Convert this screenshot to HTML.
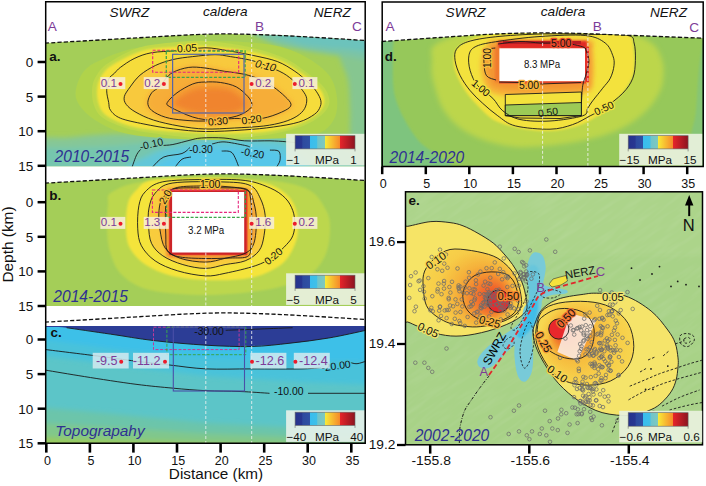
<!DOCTYPE html>
<html><head><meta charset="utf-8"><title>Figure</title>
<style>
html,body{margin:0;padding:0;background:#fff;}
body{width:706px;height:486px;overflow:hidden;position:relative;font-family:"Liberation Sans", sans-serif;}
svg{position:absolute;left:0;top:0;display:block;}
svg text{font-family:"Liberation Sans", sans-serif;}
</style></head><body>
<svg width="706" height="486" viewBox="0 0 706 486">
<defs>
<clipPath id="cA"><path d="M45.0,43.2 C58.5,42.4 99.2,40.0 126.0,38.5 C152.8,37.0 184.0,34.9 206.0,34.2 C228.0,33.6 240.3,34.1 258.0,34.6 C275.7,35.1 294.0,36.2 312.0,37.2 C330.0,38.2 357.0,40.0 366.0,40.6 L366,40.6 L366,166.2 L45,166.2 L45,43.2 Z"/></clipPath>
<clipPath id="cB"><path d="M45.0,183.2 C58.5,182.4 99.2,180.0 126.0,178.5 C152.8,177.0 184.0,174.8 206.0,174.2 C228.0,173.5 240.3,174.1 258.0,174.6 C275.7,175.1 294.0,176.2 312.0,177.2 C330.0,178.2 357.0,180.0 366.0,180.6 L366,180.6 L366,306.0 L45,306.0 L45,183.2 Z"/></clipPath>
<clipPath id="cC"><rect x="45" y="326" width="321" height="117.5"/></clipPath>
<clipPath id="cD"><path d="M382.0,41.5 C391.7,40.8 420.3,38.8 440.0,37.5 C459.7,36.2 480.0,34.5 500.0,33.8 C520.0,33.0 540.0,32.8 560.0,33.0 C580.0,33.2 596.2,34.1 620.0,35.0 C643.8,35.9 689.2,37.7 703.0,38.2 L704,38.2 L704,166.5 L381,166.5 L381,41.5 Z"/></clipPath>
<clipPath id="cE"><rect x="405.5" y="192" width="297" height="253"/></clipPath>
<filter id="bl1" x="-10%" y="-10%" width="120%" height="120%"><feGaussianBlur stdDeviation="1.2"/></filter>
<filter id="bl05" x="-10%" y="-10%" width="120%" height="120%"><feGaussianBlur stdDeviation="0.6"/></filter>
<filter id="bl2" x="-10%" y="-10%" width="120%" height="120%"><feGaussianBlur stdDeviation="2.5"/></filter>
<linearGradient id="cbar" x1="0" x2="1" y1="0" y2="0"><stop offset="0" stop-color="#26338c"/><stop offset="0.12" stop-color="#283792"/><stop offset="0.125" stop-color="#2d4a9e"/><stop offset="0.245" stop-color="#2f50a4"/><stop offset="0.25" stop-color="#38bdee"/><stop offset="0.37" stop-color="#40c0e8"/><stop offset="0.375" stop-color="#6ec4cc"/><stop offset="0.495" stop-color="#80c8bc"/><stop offset="0.5" stop-color="#f8ea38"/><stop offset="0.745" stop-color="#f68a2a"/><stop offset="0.75" stop-color="#e6242a"/><stop offset="1" stop-color="#8c1420"/></linearGradient>
<filter id="tex" x="0" y="0" width="100%" height="100%"><feTurbulence type="fractalNoise" baseFrequency="0.03 0.22" numOctaves="2" seed="5"/><feColorMatrix type="matrix" values="0 0 0 0 1  0 0 0 0 1  0 0 0 0 1  0 0 0 -1.2 0.75"/></filter>
</defs>
<g clip-path="url(#cA)">
<rect x="40" y="30" width="330" height="140" fill="#a4ce58"/>
<g filter="url(#bl2)">
<path d="M340.0,50.0 C344.0,44.2 366.7,28.3 372.0,45.0 C377.3,61.7 375.3,134.2 372.0,150.0 C368.7,165.8 355.7,146.7 352.0,140.0 C348.3,133.3 350.7,120.0 350.0,110.0 C349.3,100.0 349.7,90.0 348.0,80.0 C346.3,70.0 336.0,55.8 340.0,50.0Z" fill="#86c690"/>
<path d="M258.0,30.0 C275.0,28.0 353.0,25.3 372.0,30.0 C391.0,34.7 376.5,53.7 372.0,58.0 C367.5,62.3 353.3,56.8 345.0,56.0 C336.7,55.2 330.7,54.3 322.0,53.0 C313.3,51.7 301.7,49.8 293.0,48.0 C284.3,46.2 275.8,45.0 270.0,42.0 C264.2,39.0 241.0,32.0 258.0,30.0Z" fill="#7cc4a6"/>
<path d="M275.0,30.0 C287.7,27.8 355.8,26.7 372.0,30.0 C388.2,33.3 376.5,46.8 372.0,50.0 C367.5,53.2 353.3,49.5 345.0,49.0 C336.7,48.5 330.2,48.0 322.0,47.0 C313.8,46.0 303.8,45.8 296.0,43.0 C288.2,40.2 262.3,32.2 275.0,30.0Z" fill="#6cc3bc"/>
<path d="M40.0,172.0 C-15.3,166.8 35.2,146.8 40.0,141.0 C44.8,135.2 58.2,138.6 68.7,137.5 C79.2,136.4 91.4,135.1 102.7,134.5 C114.0,133.9 123.4,134.0 136.6,133.8 C149.8,133.6 166.4,133.1 182.0,133.1 C197.6,133.1 212.0,133.8 230.0,134.0 C248.0,134.2 273.3,133.7 290.0,134.0 C306.7,134.3 316.3,135.0 330.0,136.0 C343.7,137.0 365.0,134.0 372.0,140.0 C379.0,146.0 427.3,166.7 372.0,172.0 C316.7,177.3 95.3,177.2 40.0,172.0Z" fill="#86c796"/>
<path d="M40.0,172.0 C-10.8,168.3 35.0,154.1 40.0,150.0 C45.0,145.9 57.7,148.2 70.0,147.5 C82.3,146.8 99.0,146.6 114.0,145.5 C129.0,144.4 144.0,142.3 160.0,141.0 C176.0,139.7 193.3,138.1 210.0,137.5 C226.7,136.9 245.0,137.1 260.0,137.5 C275.0,137.9 288.3,138.8 300.0,140.0 C311.7,141.2 322.5,139.7 330.0,145.0 C337.5,150.3 393.3,167.5 345.0,172.0 C296.7,176.5 90.8,175.7 40.0,172.0Z" fill="#76c6ae"/>
<path d="M135.0,172.0 C110.0,169.2 142.8,159.3 150.0,155.0 C157.2,150.7 168.0,148.3 178.0,146.0 C188.0,143.7 196.3,141.8 210.0,141.0 C223.7,140.2 247.0,140.2 260.0,141.0 C273.0,141.8 281.3,140.8 288.0,146.0 C294.7,151.2 325.5,167.7 300.0,172.0 C274.5,176.3 160.0,174.8 135.0,172.0Z" fill="#62c7d8"/>
<path d="M160.0,172.0 C140.8,169.3 168.3,159.8 175.0,156.0 C181.7,152.2 189.2,150.3 200.0,149.0 C210.8,147.7 227.0,147.5 240.0,148.0 C253.0,148.5 269.7,148.0 278.0,152.0 C286.3,156.0 309.7,168.7 290.0,172.0 C270.3,175.3 179.2,174.7 160.0,172.0Z" fill="#56c7e9"/>
</g>
<path d="M143.0,47.0 C157.0,45.2 184.7,41.5 205.0,41.0 C225.3,40.5 249.2,41.8 265.0,44.0 C280.8,46.2 289.5,49.0 300.0,54.0 C310.5,59.0 321.8,66.7 328.0,74.0 C334.2,81.3 336.2,90.2 337.0,98.0 C337.8,105.8 337.0,114.8 333.0,121.0 C329.0,127.2 324.8,132.0 313.0,135.0 C301.2,138.0 280.0,138.2 262.0,139.0 C244.0,139.8 223.7,140.3 205.0,140.0 C186.3,139.7 164.2,138.3 150.0,137.0 C135.8,135.7 128.3,134.3 120.0,132.0 C111.7,129.7 105.8,126.3 100.0,123.0 C94.2,119.7 89.0,116.2 85.0,112.0 C81.0,107.8 77.2,103.0 76.0,98.0 C74.8,93.0 76.2,87.0 78.0,82.0 C79.8,77.0 82.8,71.8 87.0,68.0 C91.2,64.2 97.3,61.7 103.0,59.0 C108.7,56.3 114.3,54.0 121.0,52.0 C127.7,50.0 129.0,48.8 143.0,47.0Z" fill="#b0d34c" filter="url(#bl05)"/>
<path d="M147.8,45.6 C139.9,47.2 135.4,48.9 129.7,51.3 C124.0,53.7 118.4,57.0 113.8,59.8 C109.1,62.6 105.1,64.7 101.8,68.2 C98.5,71.6 95.6,76.4 93.9,80.5 C92.3,84.6 92.0,88.7 92.0,92.8 C92.0,96.9 92.6,101.3 93.9,105.1 C95.3,108.8 96.6,112.3 99.9,115.4 C103.2,118.5 108.8,121.3 113.8,123.6 C118.7,125.9 123.6,127.7 129.6,129.2 C135.6,130.7 142.1,131.7 149.6,132.8 C157.0,134.0 165.0,134.9 174.2,135.9 C183.5,136.8 196.3,138.1 205.0,138.5 C213.8,138.9 216.3,139.0 226.7,138.3 C237.2,137.7 256.0,136.4 267.9,134.7 C279.7,132.9 289.7,130.3 297.7,127.8 C305.6,125.2 310.9,122.2 315.5,119.4 C320.1,116.6 322.9,113.9 325.2,111.2 C327.5,108.4 328.9,106.1 329.3,103.0 C329.6,100.0 328.9,96.2 327.3,92.8 C325.7,89.4 323.4,86.3 319.5,82.6 C315.5,78.8 308.9,74.0 303.7,70.2 C298.4,66.4 294.5,62.9 287.8,59.7 C281.2,56.4 272.2,53.3 263.8,50.8 C255.3,48.3 246.9,46.3 237.1,44.7 C227.3,43.0 214.9,41.3 205.0,40.9 C195.1,40.5 187.1,41.3 177.6,42.1 C168.1,42.9 155.8,44.1 147.8,45.6Z" fill="#bfd84a" filter="url(#bl05)"/>
<path d="M151.7,48.8 C144.0,50.0 139.6,51.6 134.1,53.7 C128.6,55.8 123.1,58.9 118.5,61.5 C113.9,64.1 110.0,66.0 106.7,69.3 C103.4,72.5 100.5,77.1 98.9,81.0 C97.3,84.9 97.0,88.9 97.0,92.8 C97.0,96.7 97.6,100.9 98.9,104.5 C100.2,108.1 101.5,111.4 104.8,114.3 C108.1,117.2 113.6,119.9 118.5,122.0 C123.4,124.1 128.2,125.7 134.1,127.0 C139.9,128.3 146.4,129.1 153.6,129.9 C160.8,130.7 168.5,131.2 177.1,131.8 C185.7,132.4 197.1,133.2 205.0,133.5 C212.9,133.8 214.8,134.1 224.6,133.8 C234.4,133.5 252.3,133.2 263.7,131.9 C275.1,130.6 285.2,128.3 293.0,126.0 C300.8,123.7 306.1,120.8 310.6,118.2 C315.2,115.6 318.0,113.0 320.3,110.4 C322.6,107.8 324.0,105.5 324.3,102.6 C324.6,99.7 323.9,96.1 322.3,92.8 C320.7,89.5 318.4,86.6 314.5,83.0 C310.6,79.4 304.0,74.9 298.8,71.3 C293.6,67.7 289.7,64.4 283.2,61.5 C276.7,58.6 267.8,55.8 259.7,53.7 C251.5,51.6 243.4,50.1 234.3,48.8 C225.2,47.5 214.1,46.3 205.0,45.9 C195.9,45.5 188.9,46.0 180.0,46.5 C171.1,47.0 159.3,47.6 151.7,48.8Z" fill="#f5e23b" filter="url(#bl1)"/>
<path d="M177.0,50.7 C168.1,51.5 158.8,51.4 151.7,52.7 C144.5,54.0 139.3,56.1 134.1,58.6 C128.9,61.1 123.7,65.0 120.4,67.4 C117.1,69.8 116.5,71.2 114.5,73.2 C112.5,75.2 110.0,76.2 108.7,79.1 C107.4,82.0 106.7,86.9 106.7,90.8 C106.7,94.7 108.1,99.2 108.7,102.5 C109.3,105.8 108.6,107.8 110.6,110.4 C112.5,113.0 114.9,115.9 120.4,118.2 C126.0,120.5 135.1,122.2 143.9,124.0 C152.7,125.8 163.0,127.7 173.2,128.9 C183.4,130.2 193.2,131.3 205.0,131.5 C216.8,131.7 232.7,130.7 244.1,129.9 C255.5,129.2 264.3,128.3 273.4,127.0 C282.5,125.7 291.9,124.2 298.8,122.1 C305.7,120.0 310.9,116.9 314.5,114.3 C318.1,111.7 319.3,109.1 320.3,106.5 C321.3,103.9 321.3,101.6 320.3,98.7 C319.3,95.8 316.8,91.9 314.5,88.9 C312.2,86.0 310.0,83.9 306.7,81.0 C303.4,78.1 299.8,74.5 294.9,71.3 C290.0,68.0 284.1,64.1 277.3,61.5 C270.5,58.9 262.0,57.4 253.9,55.6 C245.8,53.8 236.7,52.1 228.5,50.8 C220.3,49.5 213.6,47.8 205.0,47.8 C196.4,47.8 185.9,49.9 177.0,50.7Z" fill="#f6dc3b" filter="url(#bl1)"/>
<path d="M215.0,54.7 C208.7,54.7 199.7,55.8 192.7,56.6 C185.7,57.4 179.4,58.0 173.2,59.5 C167.0,61.0 161.1,62.8 155.6,65.4 C150.1,68.0 144.2,71.6 140.0,75.2 C135.8,78.8 132.8,83.3 130.2,86.9 C127.6,90.5 124.9,93.8 124.3,96.7 C123.7,99.6 124.3,101.9 126.3,104.5 C128.2,107.1 131.4,109.7 136.0,112.3 C140.6,114.9 146.4,117.8 153.6,120.1 C160.8,122.4 170.4,124.5 179.0,126.0 C187.6,127.5 195.8,128.7 205.0,129.0 C214.2,129.3 224.5,128.5 234.3,128.0 C244.1,127.5 255.5,127.0 263.7,126.0 C271.8,125.0 277.7,123.7 283.2,122.1 C288.7,120.5 293.3,118.5 296.9,116.2 C300.5,113.9 303.1,111.3 304.7,108.4 C306.3,105.5 307.0,101.6 306.7,98.7 C306.4,95.8 304.8,93.6 302.8,90.8 C300.8,88.0 298.2,84.9 294.9,82.0 C291.6,79.1 288.1,76.0 283.2,73.2 C278.3,70.4 270.8,67.5 265.6,65.4 C260.4,63.3 257.8,62.0 251.9,60.5 C246.0,59.0 236.6,57.6 230.4,56.6 C224.2,55.6 221.3,54.7 215.0,54.7Z" fill="#f8c93c" filter="url(#bl1)"/>
<path d="M187.5,65.9 C192.9,65.1 198.0,65.5 204.3,66.1 C210.6,66.7 218.4,68.3 225.3,69.4 C232.2,70.6 239.3,71.3 245.7,73.0 C252.1,74.7 258.9,77.1 263.9,79.4 C268.8,81.6 271.5,83.7 275.4,86.6 C279.3,89.5 284.3,93.7 287.2,96.7 C290.1,99.7 293.0,102.4 293.0,104.7 C293.0,107.1 291.1,108.6 287.2,110.8 C283.2,113.0 275.2,116.3 269.5,117.9 C263.7,119.6 258.3,120.2 252.7,120.6 C247.0,120.9 243.7,119.6 235.6,120.0 C227.5,120.4 213.3,122.6 204.3,122.9 C195.2,123.1 188.2,122.1 181.4,121.3 C174.6,120.5 168.8,119.7 163.6,118.0 C158.3,116.2 152.7,113.4 149.7,110.8 C146.8,108.3 145.8,105.7 145.8,102.7 C145.8,99.7 147.7,95.4 149.7,92.7 C151.7,90.0 155.2,88.9 157.5,86.6 C159.8,84.2 161.2,81.0 163.5,78.5 C165.8,75.9 167.5,73.3 171.5,71.2 C175.5,69.1 182.0,66.8 187.5,65.9Z" fill="#f7b93a" filter="url(#bl2)"/>
<path d="M188.8,67.4 C194.1,66.7 199.0,67.3 205.0,68.0 C211.0,68.7 218.1,70.3 224.6,71.3 C231.1,72.3 237.9,72.8 244.1,74.2 C250.3,75.7 257.1,77.9 262.0,80.0 C266.9,82.1 269.5,84.1 273.4,86.9 C277.3,89.7 282.3,93.8 285.2,96.7 C288.1,99.6 291.0,102.2 291.0,104.5 C291.0,106.8 289.1,108.3 285.2,110.4 C281.3,112.5 273.3,115.7 267.6,117.2 C261.9,118.7 256.6,119.3 251.0,119.5 C245.4,119.7 242.0,118.2 234.3,118.5 C226.6,118.8 213.6,120.7 205.0,121.0 C196.4,121.3 189.6,120.7 183.0,120.1 C176.4,119.5 170.6,118.8 165.4,117.2 C160.2,115.6 154.6,112.9 151.7,110.4 C148.8,108.0 147.8,105.4 147.8,102.5 C147.8,99.6 149.8,95.4 151.7,92.8 C153.6,90.2 157.2,89.2 159.5,86.9 C161.8,84.6 163.1,81.5 165.4,79.1 C167.7,76.6 169.3,74.2 173.2,72.2 C177.1,70.2 183.5,68.1 188.8,67.4Z" fill="#f6ad37" filter="url(#bl2)"/>
<path d="M192.7,84.0 C197.4,82.2 200.3,82.2 205.0,82.0 C209.7,81.8 215.4,81.7 220.6,82.5 C225.8,83.3 231.7,84.5 236.3,86.9 C240.9,89.3 245.4,93.8 248.0,96.7 C250.6,99.6 251.9,102.2 251.9,104.5 C251.9,106.8 250.6,108.5 248.0,110.4 C245.4,112.4 241.4,114.7 236.3,116.2 C231.2,117.7 223.0,119.0 217.7,119.5 C212.4,120.0 208.6,119.9 204.4,119.5 C200.2,119.1 196.6,118.2 192.7,117.0 C188.8,115.8 184.9,114.1 181.0,112.3 C177.1,110.5 171.6,108.0 169.3,106.4 C167.0,104.8 166.0,104.8 167.3,102.5 C168.6,100.2 172.8,95.9 177.0,92.8 C181.2,89.7 188.0,85.8 192.7,84.0Z" fill="#f49b33" filter="url(#bl2)"/>
<path d="M197.5,89.1 C201.3,88.1 203.4,88.9 206.6,88.8 C209.9,88.7 213.3,88.4 217.3,88.6 C221.2,88.9 226.3,88.9 230.2,90.4 C234.2,91.9 238.6,95.4 241.1,97.7 C243.5,100.0 244.9,102.2 244.9,104.1 C244.9,106.0 243.6,107.5 241.2,108.9 C238.7,110.4 234.5,112.2 230.1,112.9 C225.7,113.6 218.7,113.1 214.8,113.1 C210.9,113.1 209.3,112.9 206.5,112.8 C203.7,112.7 201.2,112.9 198.0,112.4 C194.9,112.0 191.2,111.1 187.6,110.0 C184.0,108.9 178.5,106.9 176.3,105.7 C174.0,104.4 173.1,104.3 174.3,102.5 C175.5,100.6 179.9,97.0 183.7,94.7 C187.6,92.5 193.7,90.1 197.5,89.1Z" fill="#f0842f" filter="url(#bl2)"/>
<path d="M177.0,50.7 C168.1,51.5 158.8,51.4 151.7,52.7 C144.5,54.0 139.3,56.1 134.1,58.6 C128.9,61.1 123.7,65.0 120.4,67.4 C117.1,69.8 116.5,71.2 114.5,73.2 C112.5,75.2 110.0,76.2 108.7,79.1 C107.4,82.0 106.7,86.9 106.7,90.8 C106.7,94.7 108.1,99.2 108.7,102.5 C109.3,105.8 108.6,107.8 110.6,110.4 C112.5,113.0 114.9,115.9 120.4,118.2 C126.0,120.5 135.1,122.2 143.9,124.0 C152.7,125.8 163.0,127.7 173.2,128.9 C183.4,130.2 193.2,131.3 205.0,131.5 C216.8,131.7 232.7,130.7 244.1,129.9 C255.5,129.2 264.3,128.3 273.4,127.0 C282.5,125.7 291.9,124.2 298.8,122.1 C305.7,120.0 310.9,116.9 314.5,114.3 C318.1,111.7 319.3,109.1 320.3,106.5 C321.3,103.9 321.3,101.6 320.3,98.7 C319.3,95.8 316.8,91.9 314.5,88.9 C312.2,86.0 310.0,83.9 306.7,81.0 C303.4,78.1 299.8,74.5 294.9,71.3 C290.0,68.0 284.1,64.1 277.3,61.5 C270.5,58.9 262.0,57.4 253.9,55.6 C245.8,53.8 236.7,52.1 228.5,50.8 C220.3,49.5 213.6,47.8 205.0,47.8 C196.4,47.8 185.9,49.9 177.0,50.7Z" fill="none" stroke="#1a1a1a" stroke-width="0.9" />
<path d="M215.0,54.7 C208.7,54.7 199.7,55.8 192.7,56.6 C185.7,57.4 179.4,58.0 173.2,59.5 C167.0,61.0 161.1,62.8 155.6,65.4 C150.1,68.0 144.2,71.6 140.0,75.2 C135.8,78.8 132.8,83.3 130.2,86.9 C127.6,90.5 124.9,93.8 124.3,96.7 C123.7,99.6 124.3,101.9 126.3,104.5 C128.2,107.1 131.4,109.7 136.0,112.3 C140.6,114.9 146.4,117.8 153.6,120.1 C160.8,122.4 170.4,124.5 179.0,126.0 C187.6,127.5 195.8,128.7 205.0,129.0 C214.2,129.3 224.5,128.5 234.3,128.0 C244.1,127.5 255.5,127.0 263.7,126.0 C271.8,125.0 277.7,123.7 283.2,122.1 C288.7,120.5 293.3,118.5 296.9,116.2 C300.5,113.9 303.1,111.3 304.7,108.4 C306.3,105.5 307.0,101.6 306.7,98.7 C306.4,95.8 304.8,93.6 302.8,90.8 C300.8,88.0 298.2,84.9 294.9,82.0 C291.6,79.1 288.1,76.0 283.2,73.2 C278.3,70.4 270.8,67.5 265.6,65.4 C260.4,63.3 257.8,62.0 251.9,60.5 C246.0,59.0 236.6,57.6 230.4,56.6 C224.2,55.6 221.3,54.7 215.0,54.7Z" fill="none" stroke="#1a1a1a" stroke-width="0.9" />
<path d="M188.8,67.4 C194.1,66.7 199.0,67.3 205.0,68.0 C211.0,68.7 218.1,70.3 224.6,71.3 C231.1,72.3 237.9,72.8 244.1,74.2 C250.3,75.7 257.1,77.9 262.0,80.0 C266.9,82.1 269.5,84.1 273.4,86.9 C277.3,89.7 282.3,93.8 285.2,96.7 C288.1,99.6 291.0,102.2 291.0,104.5 C291.0,106.8 289.1,108.3 285.2,110.4 C281.3,112.5 273.3,115.7 267.6,117.2 C261.9,118.7 256.6,119.3 251.0,119.5 C245.4,119.7 242.0,118.2 234.3,118.5 C226.6,118.8 213.6,120.7 205.0,121.0 C196.4,121.3 189.6,120.7 183.0,120.1 C176.4,119.5 170.6,118.8 165.4,117.2 C160.2,115.6 154.6,112.9 151.7,110.4 C148.8,108.0 147.8,105.4 147.8,102.5 C147.8,99.6 149.8,95.4 151.7,92.8 C153.6,90.2 157.2,89.2 159.5,86.9 C161.8,84.6 163.1,81.5 165.4,79.1 C167.7,76.6 169.3,74.2 173.2,72.2 C177.1,70.2 183.5,68.1 188.8,67.4Z" fill="none" stroke="#1a1a1a" stroke-width="0.9" />
<path d="M192.7,84.0 C197.4,82.2 200.3,82.2 205.0,82.0 C209.7,81.8 215.4,81.7 220.6,82.5 C225.8,83.3 231.7,84.5 236.3,86.9 C240.9,89.3 245.4,93.8 248.0,96.7 C250.6,99.6 251.9,102.2 251.9,104.5 C251.9,106.8 250.6,108.5 248.0,110.4 C245.4,112.4 241.4,114.7 236.3,116.2 C231.2,117.7 223.0,119.0 217.7,119.5 C212.4,120.0 208.6,119.9 204.4,119.5 C200.2,119.1 196.6,118.2 192.7,117.0 C188.8,115.8 184.9,114.1 181.0,112.3 C177.1,110.5 171.6,108.0 169.3,106.4 C167.0,104.8 166.0,104.8 167.3,102.5 C168.6,100.2 172.8,95.9 177.0,92.8 C181.2,89.7 188.0,85.8 192.7,84.0Z" fill="none" stroke="#1a1a1a" stroke-width="0.9" />
<path d="M132.1,167.0 C132.9,164.9 135.2,157.7 136.7,154.7 C138.2,151.7 140.3,149.9 141.0,149.0" fill="none" stroke="#1a1a1a" stroke-width="0.9" />
<path d="M162.0,145.5 C163.8,145.3 168.2,145.4 172.9,144.5 C177.6,143.6 185.3,141.3 190.0,140.2 C194.7,139.1 195.6,138.4 201.3,138.0 C207.0,137.6 216.8,137.5 224.0,138.0 C231.2,138.5 236.7,140.3 244.4,140.8 C252.1,141.3 263.1,140.7 270.0,140.8 C276.9,141.0 280.7,141.3 285.7,141.7 C290.7,142.1 297.6,142.8 300.0,143.0" fill="none" stroke="#1a1a1a" stroke-width="0.9" />
<path d="M152.5,167.0 C154.4,165.3 158.9,159.2 163.8,157.0 C168.7,154.8 177.6,155.1 182.0,153.5 C186.4,151.9 188.7,148.5 190.0,147.5" fill="none" stroke="#1a1a1a" stroke-width="0.9" />
<path d="M212.0,144.0 C214.0,143.7 218.6,141.7 224.0,141.9 C229.4,142.1 240.1,144.5 244.4,145.3 C248.7,146.2 249.1,146.7 250.0,147.0" fill="none" stroke="#1a1a1a" stroke-width="0.9" />
<path d="M175.2,167.0 C176.3,165.7 179.4,160.9 182.0,159.2 C184.6,157.5 189.5,157.4 191.0,157.0" fill="none" stroke="#1a1a1a" stroke-width="0.9" />
<path d="M221.7,151.0 C223.4,151.3 229.2,150.1 232.0,152.7 C234.8,155.3 237.6,164.2 238.7,166.5" fill="none" stroke="#1a1a1a" stroke-width="0.9" />
<path d="M269.9,150.1 C271.4,150.3 277.2,149.6 278.9,151.3 C280.6,153.0 280.4,157.7 280.0,160.3 C279.6,162.9 277.2,165.9 276.6,167.0" fill="none" stroke="#1a1a1a" stroke-width="0.9" />
<rect x="152.7" y="50.3" width="86" height="22" fill="none" stroke="#e6267e" stroke-width="1.1" stroke-dasharray="3,1.6"/>
<rect x="166.3" y="51" width="78.8" height="26.4" fill="none" stroke="#3aa64a" stroke-width="1.3" stroke-dasharray="3,1.6"/>
<rect x="172.6" y="54.3" width="71.4" height="58.7" fill="none" stroke="#5565a8" stroke-width="1.2"/>
<line x1="205.8" y1="34" x2="205.8" y2="166" stroke="#f4f4f4" stroke-width="0.9" stroke-dasharray="3,2" opacity="0.9"/>
<line x1="251.7" y1="34" x2="251.7" y2="166" stroke="#f4f4f4" stroke-width="0.9" stroke-dasharray="3,2" opacity="0.9"/>
<text x="0" y="0" font-size="10.4" fill="#111" text-anchor="middle" dominant-baseline="central" stroke="#f3df3c" stroke-width="2.6" paint-order="stroke" stroke-linejoin="round" transform="translate(187 48.3) rotate(-4)">0.05</text>
<text x="0" y="0" font-size="10.8" fill="#111" text-anchor="middle" dominant-baseline="central" font-style="italic" stroke="#f8cf3e" stroke-width="2.6" paint-order="stroke" stroke-linejoin="round" transform="translate(265.6 65.4) rotate(14)">0.10</text>
<text x="0" y="0" font-size="10.4" fill="#111" text-anchor="middle" dominant-baseline="central" stroke="#f7ba3b" stroke-width="2.6" paint-order="stroke" stroke-linejoin="round" transform="translate(218 121.4) rotate(-5)">0.30</text>
<text x="0" y="0" font-size="10.4" fill="#111" text-anchor="middle" dominant-baseline="central" stroke="#f7c43c" stroke-width="2.6" paint-order="stroke" stroke-linejoin="round" transform="translate(251.5 119.6) rotate(-8)">0.20</text>
<text x="0" y="0" font-size="10.4" fill="#111" text-anchor="middle" dominant-baseline="central" stroke="#78c5ae" stroke-width="2.6" paint-order="stroke" stroke-linejoin="round" transform="translate(151.4 144.2) rotate(-14)">-0.10</text>
<text x="0" y="0" font-size="10.4" fill="#111" text-anchor="middle" dominant-baseline="central" stroke="#5ec6e0" stroke-width="2.6" paint-order="stroke" stroke-linejoin="round" transform="translate(201 149.3) rotate(0)">-0.30</text>
<text x="0" y="0" font-size="10.4" fill="#111" text-anchor="middle" dominant-baseline="central" stroke="#58c6e6" stroke-width="2.6" paint-order="stroke" stroke-linejoin="round" transform="translate(252.5 153.3) rotate(10)">-0.20</text>
<rect x="100.3" y="77.1" width="25" height="12" fill="#f7eed6" opacity="0.88"/>
<text x="100.8" y="86.5" font-size="11.6" fill="#7d3c98">0.1</text>
<circle cx="120.5" cy="83.9" r="2" fill="#ec1c2c"/>
<rect x="143.7" y="77.1" width="25" height="12" fill="#f7eed6" opacity="0.88"/>
<text x="144.2" y="86.5" font-size="11.6" fill="#7d3c98">0.2</text>
<circle cx="163.9" cy="83.9" r="2" fill="#ec1c2c"/>
<rect x="249.2" y="77.1" width="25" height="12" fill="#f7eed6" opacity="0.88"/>
<text x="255.2" y="86.5" font-size="11.6" fill="#7d3c98">0.2</text>
<circle cx="251.6" cy="83.9" r="2" fill="#ec1c2c"/>
<rect x="292.4" y="77.1" width="25" height="12" fill="#f7eed6" opacity="0.88"/>
<text x="298.4" y="86.5" font-size="11.6" fill="#7d3c98">0.1</text>
<circle cx="294.8" cy="83.9" r="2" fill="#ec1c2c"/>
</g>
<path d="M45.0,43.2 C58.5,42.4 99.2,40.0 126.0,38.5 C152.8,37.0 184.0,34.9 206.0,34.2 C228.0,33.6 240.3,34.1 258.0,34.6 C275.7,35.1 294.0,36.2 312.0,37.2 C330.0,38.2 357.0,40.0 366.0,40.6" fill="none" stroke="#111" stroke-width="1.3" stroke-dasharray="4.2,2.1"/>
<text x="54.6" y="162.4" font-size="15.6" font-style="italic" fill="#2e3192">2010-2015</text>
<text x="49.3" y="60.6" font-size="13.5" font-weight="bold" fill="#111">a.</text>
<rect x="286.1" y="133.79999999999998" width="79.5" height="31.6" fill="#e6efe0" opacity="0.94"/>
<rect x="295.1" y="135.7" width="59.9" height="13.2" fill="url(#cbar)" stroke="#666" stroke-width="0.6"/>
<line x1="295.1" y1="148.89999999999998" x2="295.1" y2="151.39999999999998" stroke="#666" stroke-width="0.6"/>
<line x1="355.0" y1="148.89999999999998" x2="355.0" y2="151.39999999999998" stroke="#666" stroke-width="0.6"/>
<text x="286.5" y="164.2" font-size="11.7" fill="#111">&#8722;1</text>
<text x="326.95" y="164.2" font-size="11.7" text-anchor="middle" fill="#111">MPa</text>
<text x="350.3" y="164.2" font-size="11.7" fill="#111">1</text>
<g clip-path="url(#cB)">
<rect x="40" y="170" width="330" height="140" fill="#a4ce58"/>
<path d="M112.0,192.0 C119.0,188.0 127.0,183.2 150.0,181.0 C173.0,178.8 224.2,177.8 250.0,179.0 C275.8,180.2 292.3,182.8 305.0,188.0 C317.7,193.2 321.8,202.7 326.0,210.0 C330.2,217.3 330.3,224.0 330.0,232.0 C329.7,240.0 328.2,250.3 324.0,258.0 C319.8,265.7 314.8,272.7 305.0,278.0 C295.2,283.3 281.7,287.2 265.0,290.0 C248.3,292.8 224.2,295.0 205.0,295.0 C185.8,295.0 163.8,293.3 150.0,290.0 C136.2,286.7 128.7,281.3 122.0,275.0 C115.3,268.7 112.5,259.8 110.0,252.0 C107.5,244.2 107.3,235.8 107.0,228.0 C106.7,220.2 107.2,211.0 108.0,205.0 C108.8,199.0 105.0,196.0 112.0,192.0Z" fill="#bcd74e" filter="url(#bl1)"/>
<path d="M150.0,180.5 C141.0,182.6 139.7,186.8 136.0,190.6 C132.3,194.4 129.7,196.8 128.0,203.1 C126.3,209.4 125.7,220.7 126.0,228.2 C126.3,235.7 126.7,242.2 130.0,248.3 C133.3,254.4 139.0,260.4 146.0,265.0 C153.0,269.6 162.1,273.5 172.0,276.0 C181.9,278.5 194.5,279.4 205.4,280.0 C216.3,280.6 228.1,280.4 237.6,279.5 C247.1,278.6 255.0,277.4 262.7,274.5 C270.4,271.6 278.6,267.1 284.0,262.0 C289.4,256.9 292.7,249.6 295.0,244.0 C297.3,238.4 297.9,234.2 298.0,228.2 C298.1,222.2 297.7,213.9 295.5,208.1 C293.3,202.2 290.1,197.3 285.0,193.1 C279.9,188.9 275.0,185.5 265.0,183.0 C255.0,180.5 237.5,178.8 225.0,178.0 C212.5,177.2 202.5,177.6 190.0,178.0 C177.5,178.4 159.0,178.4 150.0,180.5Z" fill="#f4e43b" filter="url(#bl1)"/>
<path d="M172.8,183.0 C161.2,184.8 159.2,188.9 155.2,193.1 C151.2,197.3 150.1,202.8 149.0,208.1 C147.9,213.4 148.1,219.1 148.5,225.0 C148.9,230.9 149.1,238.2 151.5,243.3 C153.9,248.4 157.6,252.2 162.8,255.8 C168.0,259.4 175.8,262.5 182.9,264.6 C190.0,266.7 198.4,268.4 205.4,268.4 C212.4,268.4 218.5,265.9 225.1,264.6 C231.7,263.3 239.5,263.1 245.2,260.8 C250.8,258.5 255.9,255.0 259.0,250.8 C262.1,246.6 263.0,241.6 264.0,235.7 C265.0,229.8 265.8,221.9 265.2,215.6 C264.6,209.3 262.7,203.1 260.2,198.1 C257.7,193.1 256.1,188.2 250.2,185.5 C244.3,182.8 237.9,182.4 225.0,182.0 C212.1,181.6 184.4,181.2 172.8,183.0Z" fill="#f8cc3c" filter="url(#bl1)"/>
<path d="M175.3,188.0 C169.1,190.0 165.5,194.3 162.8,198.1 C160.1,201.9 159.5,205.3 159.0,210.6 C158.5,215.9 158.9,223.7 160.0,230.0 C161.1,236.3 161.9,243.6 165.3,248.3 C168.7,253.0 173.6,256.0 180.3,258.3 C187.0,260.6 197.9,262.1 205.4,262.1 C212.9,262.1 218.5,259.8 225.1,258.3 C231.7,256.8 240.4,255.8 245.2,253.3 C250.0,250.8 252.0,248.6 253.9,243.2 C255.8,237.8 256.4,227.3 256.4,220.6 C256.4,213.9 255.3,208.1 253.9,203.1 C252.5,198.1 252.5,193.3 247.7,190.5 C242.9,187.7 232.9,187.2 225.0,186.5 C217.1,185.8 208.3,185.8 200.0,186.0 C191.7,186.2 181.5,186.0 175.3,188.0Z" fill="#f5a536" filter="url(#bl1)"/>
<rect x="166" y="188" width="84" height="70" rx="4" fill="#f39a33" filter="url(#bl1)"/>
<rect x="168.8" y="190" width="78.7" height="65.2" rx="1.5" fill="#e5402c" filter="url(#bl05)"/>
<rect x="169.8" y="191" width="76.5" height="63.5" fill="#cc2428"/>
<rect x="172.1" y="192" width="72.1" height="60.5" fill="#fff"/>
<path d="M162.8,181.8 C152.8,183.9 149.2,187.8 145.2,191.8 C141.2,195.8 140.2,199.5 138.9,205.6 C137.7,211.7 137.3,221.5 137.7,228.2 C138.1,234.9 138.5,240.4 141.4,245.8 C144.3,251.2 149.1,256.7 155.2,260.9 C161.3,265.1 169.4,268.4 177.8,270.9 C186.2,273.4 197.5,275.5 205.4,275.9 C213.3,276.3 216.8,275.0 225.1,273.3 C233.4,271.6 247.2,268.5 255.2,265.8 C263.1,263.1 267.6,260.6 272.8,257.0 C278.0,253.4 283.3,248.1 286.6,244.5 C289.9,240.9 291.4,239.2 292.8,235.7 C294.2,232.2 294.8,227.9 294.8,223.7 C294.8,219.5 294.4,214.9 292.8,210.6 C291.2,206.3 289.1,201.9 285.3,198.1 C281.5,194.3 276.9,190.9 270.2,188.0 C263.5,185.1 256.1,181.9 245.2,180.5 C234.3,179.1 218.7,179.3 205.0,179.5 C191.3,179.7 172.8,179.8 162.8,181.8Z" fill="none" stroke="#1a1a1a" stroke-width="0.9" />
<path d="M172.8,183.0 C161.2,184.8 159.2,188.9 155.2,193.1 C151.2,197.3 150.1,202.8 149.0,208.1 C147.9,213.4 148.1,219.1 148.5,225.0 C148.9,230.9 149.1,238.2 151.5,243.3 C153.9,248.4 157.6,252.2 162.8,255.8 C168.0,259.4 175.8,262.5 182.9,264.6 C190.0,266.7 198.4,268.4 205.4,268.4 C212.4,268.4 218.5,265.9 225.1,264.6 C231.7,263.3 239.5,263.1 245.2,260.8 C250.8,258.5 255.9,255.0 259.0,250.8 C262.1,246.6 263.0,241.6 264.0,235.7 C265.0,229.8 265.8,221.9 265.2,215.6 C264.6,209.3 262.7,203.1 260.2,198.1 C257.7,193.1 256.1,188.2 250.2,185.5 C244.3,182.8 237.9,182.4 225.0,182.0 C212.1,181.6 184.4,181.2 172.8,183.0Z" fill="none" stroke="#1a1a1a" stroke-width="0.9" />
<path d="M175.3,188.0 C169.1,190.0 165.5,194.3 162.8,198.1 C160.1,201.9 159.5,205.3 159.0,210.6 C158.5,215.9 158.9,223.7 160.0,230.0 C161.1,236.3 161.9,243.6 165.3,248.3 C168.7,253.0 173.6,256.0 180.3,258.3 C187.0,260.6 197.9,262.1 205.4,262.1 C212.9,262.1 218.5,259.8 225.1,258.3 C231.7,256.8 240.4,255.8 245.2,253.3 C250.0,250.8 252.0,248.6 253.9,243.2 C255.8,237.8 256.4,227.3 256.4,220.6 C256.4,213.9 255.3,208.1 253.9,203.1 C252.5,198.1 252.5,193.3 247.7,190.5 C242.9,187.7 232.9,187.2 225.0,186.5 C217.1,185.8 208.3,185.8 200.0,186.0 C191.7,186.2 181.5,186.0 175.3,188.0Z" fill="none" stroke="#1a1a1a" stroke-width="0.9" />
<path d="M176.0,188.5 C170.6,189.5 169.2,190.4 167.5,194.0 C165.8,197.6 165.8,203.2 165.5,210.0 C165.2,216.8 165.5,228.2 165.8,235.0 C166.1,241.8 165.1,247.3 167.5,251.0 C169.9,254.7 173.8,255.8 180.0,257.0 C186.2,258.2 196.7,258.3 205.0,258.5 C213.3,258.7 222.9,258.3 230.0,258.0 C237.1,257.7 244.0,258.5 247.5,256.5 C251.0,254.5 250.3,252.1 251.0,246.0 C251.7,239.9 251.9,228.0 251.8,220.0 C251.7,212.0 251.5,203.2 250.5,198.0 C249.5,192.8 250.2,190.7 246.0,189.0 C241.8,187.3 232.7,188.0 225.0,187.8 C217.3,187.6 208.2,187.7 200.0,187.8 C191.8,187.9 181.4,187.5 176.0,188.5Z" fill="none" stroke="#1a1a1a" stroke-width="0.9" />
<rect x="152.4" y="190" width="85.9" height="22.4" fill="none" stroke="#e6267e" stroke-width="1.1" stroke-dasharray="3,1.6"/>
<path d="M166.5,190.9 L166.5,217.4 L245.3,217.4 L245.3,190.9" fill="none" stroke="#3aa64a" stroke-width="1.3" stroke-dasharray="3,1.6"/>
<line x1="205.8" y1="252.5" x2="205.8" y2="306" stroke="#f4f4f4" stroke-width="0.9" stroke-dasharray="3,2" opacity="0.9"/>
<line x1="251.7" y1="180" x2="251.7" y2="306" stroke="#f4f4f4" stroke-width="0.9" stroke-dasharray="3,2" opacity="0.9"/>
<text x="188" y="233.6" font-size="11.2" textLength="36.3" lengthAdjust="spacingAndGlyphs" fill="#111">3.2 MPa</text>
<text x="0" y="0" font-size="10.4" fill="#111" text-anchor="middle" dominant-baseline="central" stroke="#f6c23c" stroke-width="2.6" paint-order="stroke" stroke-linejoin="round" transform="translate(210.2 184) rotate(0)">1.00</text>
<text x="0" y="0" font-size="10.4" fill="#111" text-anchor="middle" dominant-baseline="central" stroke="#f3e23b" stroke-width="2.6" paint-order="stroke" stroke-linejoin="round" transform="translate(273.4 256.4) rotate(-40)">0.20</text>
<text x="0" y="0" font-size="10.4" fill="#111" text-anchor="middle" dominant-baseline="central" stroke="#f7c03c" stroke-width="2.6" paint-order="stroke" stroke-linejoin="round" transform="translate(165.4 197) rotate(-60)">2.0</text>
<rect x="100.3" y="216.9" width="25" height="12" fill="#f7eed6" opacity="0.88"/>
<text x="100.8" y="226.3" font-size="11.6" fill="#7d3c98">0.1</text>
<circle cx="120.5" cy="223.7" r="2" fill="#ec1c2c"/>
<rect x="143.7" y="216.9" width="25" height="12" fill="#f7eed6" opacity="0.88"/>
<text x="144.2" y="226.3" font-size="11.6" fill="#7d3c98">1.3</text>
<circle cx="163.9" cy="223.7" r="2" fill="#ec1c2c"/>
<rect x="249.2" y="216.9" width="25" height="12" fill="#f7eed6" opacity="0.88"/>
<text x="255.2" y="226.3" font-size="11.6" fill="#7d3c98">1.6</text>
<circle cx="251.6" cy="223.7" r="2" fill="#ec1c2c"/>
<rect x="292.4" y="216.9" width="25" height="12" fill="#f7eed6" opacity="0.88"/>
<text x="298.4" y="226.3" font-size="11.6" fill="#7d3c98">0.2</text>
<circle cx="294.8" cy="223.7" r="2" fill="#ec1c2c"/>
</g>
<path d="M45.0,183.2 C58.5,182.4 99.2,180.0 126.0,178.5 C152.8,177.0 184.0,174.8 206.0,174.2 C228.0,173.5 240.3,174.1 258.0,174.6 C275.7,175.1 294.0,176.2 312.0,177.2 C330.0,178.2 357.0,180.0 366.0,180.6" fill="none" stroke="#111" stroke-width="1.3" stroke-dasharray="4.2,2.1"/>
<text x="53.3" y="301.9" font-size="15.6" font-style="italic" fill="#2e3192">2014-2015</text>
<text x="49.3" y="199.7" font-size="13.5" font-weight="bold" fill="#111">b.</text>
<rect x="286.1" y="273.3" width="79.5" height="31.6" fill="#e8f0dc" opacity="0.94"/>
<rect x="295.1" y="275.2" width="59.9" height="13.2" fill="url(#cbar)" stroke="#666" stroke-width="0.6"/>
<line x1="295.1" y1="288.4" x2="295.1" y2="290.9" stroke="#666" stroke-width="0.6"/>
<line x1="355.0" y1="288.4" x2="355.0" y2="290.9" stroke="#666" stroke-width="0.6"/>
<text x="286.5" y="303.7" font-size="11.7" fill="#111">&#8722;5</text>
<text x="326.95" y="303.7" font-size="11.7" text-anchor="middle" fill="#111">MPa</text>
<text x="350.3" y="303.7" font-size="11.7" fill="#111">5</text>
<g clip-path="url(#cC)">
<rect x="40" y="320" width="330" height="130" fill="#5cc5c8"/>
<g filter="url(#bl2)">
<path d="M40.0,320.0 L372.0,320.0 L372.0,385.0 L300.0,382.0 L206.0,376.0 L123.0,366.0 L46.0,356.0 L40.0,356.0Z" fill="#4ac2da"/>
<path d="M40.0,320.0 L372.0,320.0 L372.0,362.0 L300.0,360.0 L206.0,358.0 L123.0,350.0 L46.0,340.0 L40.0,340.0Z" fill="#3dc0e8"/>
</g>
<path d="M40.0,326.0 C40.0,326.2 35.6,326.7 40.0,327.0 C44.4,327.3 54.9,326.5 66.6,327.7 C78.3,328.9 95.7,332.0 110.3,334.1 C124.9,336.2 138.1,338.8 154.0,340.6 C169.9,342.5 189.8,344.3 206.0,345.2 C222.2,346.1 237.5,346.3 251.5,346.0 C265.5,345.7 277.1,344.5 290.0,343.2 C302.9,341.9 316.0,340.1 328.7,338.0 C341.4,335.9 359.8,331.6 366.0,330.3 L372,320 L40,320 Z" fill="#2c3d96"/>
<g filter="url(#bl2)">
<path d="M40.0,407.5 L97.4,412.6 L206.0,422.9 L300.0,428.0 L372.0,432.0 L372.0,450.0 L40.0,450.0Z" fill="#6cc5aa"/>
<path d="M40.0,423.0 L123.2,428.0 L206.0,433.2 L300.0,437.0 L372.0,440.0 L372.0,450.0 L40.0,450.0Z" fill="#80c78c"/>
<path d="M40.0,437.0 L206.0,442.0 L372.0,446.0 L372.0,450.0 L40.0,450.0Z" fill="#98ca5e"/>
</g>
<path d="M46.0,349.6 C54.6,350.7 82.4,354.1 97.4,356.0 C112.4,357.9 124.0,359.7 136.0,361.2 C148.0,362.7 157.8,363.7 169.5,365.0 C181.2,366.3 192.3,368.2 206.0,368.9 C219.7,369.5 235.3,368.9 251.5,368.9 C267.7,368.9 290.8,369.2 303.0,368.9 C315.2,368.6 321.3,367.3 325.0,367.0" fill="none" stroke="#1a1a1a" stroke-width="0.9" />
<path d="M350.0,362.5 C351.2,362.7 354.3,363.9 357.0,363.7 C359.7,363.5 364.5,361.6 366.0,361.2" fill="none" stroke="#1a1a1a" stroke-width="0.9" />
<path d="M46.0,370.2 C52.4,371.3 69.6,374.2 84.6,376.6 C99.6,379.0 121.2,382.4 136.0,384.3 C150.8,386.2 161.6,387.1 173.3,388.2 C185.0,389.3 194.9,390.1 206.0,390.7 C217.1,391.2 229.4,391.1 240.0,391.5 C250.6,391.9 264.6,393.0 269.5,393.3" fill="none" stroke="#1a1a1a" stroke-width="0.9" />
<path d="M308.0,393.3 L366.0,393.3" fill="none" stroke="#1a1a1a" stroke-width="0.9" />
<path d="M66.6,327.7 C73.9,328.8 95.7,332.0 110.3,334.1 C124.9,336.2 138.1,338.8 154.0,340.6 C169.9,342.5 189.8,344.2 206.0,345.2 C222.2,346.2 237.5,346.8 251.5,346.5 C265.5,346.2 277.1,344.6 290.0,343.2 C302.9,341.8 316.0,340.1 328.7,338.0 C341.4,335.9 359.8,331.6 366.0,330.3" fill="none" stroke="#1a1a1a" stroke-width="0.9" />
<path d="M225.7,330.3 C231.4,330.1 248.8,329.4 260.0,329.0 C271.1,328.6 287.2,327.9 292.6,327.7" fill="none" stroke="#1a1a1a" stroke-width="0.9" />
<rect x="153.5" y="327.2" width="85.6" height="22.4" fill="none" stroke="#c03a98" stroke-width="1" stroke-dasharray="3,1.6"/>
<rect x="166.9" y="327.2" width="78.9" height="27.5" fill="none" stroke="#3aa64a" stroke-width="1" stroke-dasharray="3,1.6"/>
<rect x="173.3" y="327.2" width="71.2" height="63.8" fill="none" stroke="#4a4fa8" stroke-width="1.1"/>
<line x1="205.8" y1="326" x2="205.8" y2="443" stroke="#f4f4f4" stroke-width="0.9" stroke-dasharray="3,2" opacity="0.9"/>
<line x1="251.7" y1="326" x2="251.7" y2="443" stroke="#f4f4f4" stroke-width="0.9" stroke-dasharray="3,2" opacity="0.9"/>
<text x="0" y="0" font-size="10.4" fill="#111" text-anchor="middle" dominant-baseline="central" transform="translate(209 331.8) rotate(0)">-30.00</text>
<text x="0" y="0" font-size="10.4" fill="#111" text-anchor="middle" dominant-baseline="central" stroke="#47c2dc" stroke-width="2.6" paint-order="stroke" stroke-linejoin="round" transform="translate(336 366) rotate(-8)">-20.00</text>
<text x="0" y="0" font-size="10.4" fill="#111" text-anchor="middle" dominant-baseline="central" stroke="#57c5cc" stroke-width="2.6" paint-order="stroke" stroke-linejoin="round" transform="translate(288.8 391.5) rotate(0)">-10.00</text>
<rect x="92.7" y="352.8" width="36" height="15.7" fill="#d4eaf0" opacity="0.85"/>
<text x="95.9" y="365.3" font-size="12.6" fill="#7d3c98">-9.5</text>
<circle cx="121.2" cy="361.7" r="2" fill="#ec1c2c"/>
<rect x="133.0" y="352.8" width="36" height="15.7" fill="#d4eaf0" opacity="0.85"/>
<text x="132.7" y="365.3" font-size="12.6" fill="#7d3c98">-11.2</text>
<circle cx="165" cy="361.7" r="2" fill="#ec1c2c"/>
<rect x="250.4" y="352.8" width="36" height="15.7" fill="#d4eaf0" opacity="0.85"/>
<text x="255.6" y="365.3" font-size="12.6" fill="#7d3c98">-12.6</text>
<circle cx="252" cy="361.7" r="2" fill="#ec1c2c"/>
<rect x="293.8" y="352.8" width="36" height="15.7" fill="#d4eaf0" opacity="0.85"/>
<text x="299.0" y="365.3" font-size="12.6" fill="#7d3c98">-12.4</text>
<circle cx="295.4" cy="361.7" r="2" fill="#ec1c2c"/>
</g>
<path d="M45.0,322.2 C58.5,321.4 99.2,319.0 126.0,317.5 C152.8,316.0 184.0,313.8 206.0,313.2 C228.0,312.6 240.3,313.1 258.0,313.6 C275.7,314.1 294.0,315.2 312.0,316.2 C330.0,317.2 357.0,319.0 366.0,319.6" fill="none" stroke="#111" stroke-width="1.3" stroke-dasharray="4.2,2.1"/>
<text x="55.3" y="436.3" font-size="15.4" font-style="italic" fill="#2e3192">Topograpahy</text>
<text x="50.6" y="337.4" font-size="13.5" font-weight="bold" fill="#111">c.</text>
<rect x="286.1" y="410.3" width="79.5" height="31.6" fill="#e2efe8" opacity="0.94"/>
<rect x="295.1" y="412.2" width="59.9" height="13.2" fill="url(#cbar)" stroke="#666" stroke-width="0.6"/>
<line x1="295.1" y1="425.4" x2="295.1" y2="427.9" stroke="#666" stroke-width="0.6"/>
<line x1="355.0" y1="425.4" x2="355.0" y2="427.9" stroke="#666" stroke-width="0.6"/>
<text x="286.5" y="440.7" font-size="11.7" fill="#111">&#8722;40</text>
<text x="326.95" y="440.7" font-size="11.7" text-anchor="middle" fill="#111">MPa</text>
<text x="350.3" y="440.7" font-size="11.7" fill="#111">40</text>
<path d="M45.7,443.3 L45.7,1.8 L365.2,1.8 L365.2,443.3 Z" fill="none" stroke="#000" stroke-width="1.5"/>
<line x1="37.6" y1="62.0" x2="45.7" y2="62.0" stroke="#000" stroke-width="2.5"/>
<text x="0" y="0" font-size="12.5" text-anchor="end" fill="#111" transform="translate(33.2 66.9) scale(1.08 1)">0</text>
<line x1="37.6" y1="96.6" x2="45.7" y2="96.6" stroke="#000" stroke-width="2.5"/>
<text x="0" y="0" font-size="12.5" text-anchor="end" fill="#111" transform="translate(33.2 101.5) scale(1.08 1)">5</text>
<line x1="37.6" y1="131.2" x2="45.7" y2="131.2" stroke="#000" stroke-width="2.5"/>
<text x="0" y="0" font-size="12.5" text-anchor="end" fill="#111" transform="translate(33.2 136.1) scale(1.08 1)">10</text>
<line x1="37.6" y1="165.8" x2="45.7" y2="165.8" stroke="#000" stroke-width="2.5"/>
<text x="0" y="0" font-size="12.5" text-anchor="end" fill="#111" transform="translate(33.2 170.7) scale(1.08 1)">15</text>
<line x1="37.6" y1="202.2" x2="45.7" y2="202.2" stroke="#000" stroke-width="2.5"/>
<text x="0" y="0" font-size="12.5" text-anchor="end" fill="#111" transform="translate(33.2 207.1) scale(1.08 1)">0</text>
<line x1="37.6" y1="236.8" x2="45.7" y2="236.8" stroke="#000" stroke-width="2.5"/>
<text x="0" y="0" font-size="12.5" text-anchor="end" fill="#111" transform="translate(33.2 241.7) scale(1.08 1)">5</text>
<line x1="37.6" y1="271.4" x2="45.7" y2="271.4" stroke="#000" stroke-width="2.5"/>
<text x="0" y="0" font-size="12.5" text-anchor="end" fill="#111" transform="translate(33.2 276.3) scale(1.08 1)">10</text>
<line x1="37.6" y1="306.0" x2="45.7" y2="306.0" stroke="#000" stroke-width="2.5"/>
<text x="0" y="0" font-size="12.5" text-anchor="end" fill="#111" transform="translate(33.2 310.9) scale(1.08 1)">15</text>
<line x1="37.6" y1="339.5" x2="45.7" y2="339.5" stroke="#000" stroke-width="2.5"/>
<text x="0" y="0" font-size="12.5" text-anchor="end" fill="#111" transform="translate(33.2 344.4) scale(1.08 1)">0</text>
<line x1="37.6" y1="374.1" x2="45.7" y2="374.1" stroke="#000" stroke-width="2.5"/>
<text x="0" y="0" font-size="12.5" text-anchor="end" fill="#111" transform="translate(33.2 379.0) scale(1.08 1)">5</text>
<line x1="37.6" y1="408.7" x2="45.7" y2="408.7" stroke="#000" stroke-width="2.5"/>
<text x="0" y="0" font-size="12.5" text-anchor="end" fill="#111" transform="translate(33.2 413.6) scale(1.08 1)">10</text>
<line x1="37.6" y1="443.3" x2="45.7" y2="443.3" stroke="#000" stroke-width="2.5"/>
<text x="0" y="0" font-size="12.5" text-anchor="end" fill="#111" transform="translate(33.2 448.2) scale(1.08 1)">15</text>
<line x1="46.3" y1="443.3" x2="46.3" y2="452.6" stroke="#000" stroke-width="2.6"/>
<text x="47.5" y="465" font-size="12.5" text-anchor="middle" fill="#111">0</text>
<line x1="89.9" y1="443.3" x2="89.9" y2="452.6" stroke="#000" stroke-width="2.6"/>
<text x="91.1" y="465" font-size="12.5" text-anchor="middle" fill="#111">5</text>
<line x1="133.4" y1="443.3" x2="133.4" y2="452.6" stroke="#000" stroke-width="2.6"/>
<text x="134.6" y="465" font-size="12.5" text-anchor="middle" fill="#111">10</text>
<line x1="177.0" y1="443.3" x2="177.0" y2="452.6" stroke="#000" stroke-width="2.6"/>
<text x="178.2" y="465" font-size="12.5" text-anchor="middle" fill="#111">15</text>
<line x1="220.6" y1="443.3" x2="220.6" y2="452.6" stroke="#000" stroke-width="2.6"/>
<text x="221.8" y="465" font-size="12.5" text-anchor="middle" fill="#111">20</text>
<line x1="264.2" y1="443.3" x2="264.2" y2="452.6" stroke="#000" stroke-width="2.6"/>
<text x="265.4" y="465" font-size="12.5" text-anchor="middle" fill="#111">25</text>
<line x1="307.7" y1="443.3" x2="307.7" y2="452.6" stroke="#000" stroke-width="2.6"/>
<text x="308.9" y="465" font-size="12.5" text-anchor="middle" fill="#111">30</text>
<line x1="351.3" y1="443.3" x2="351.3" y2="452.6" stroke="#000" stroke-width="2.6"/>
<text x="352.5" y="465" font-size="12.5" text-anchor="middle" fill="#111">35</text>
<text x="216" y="479.3" font-size="15.3" text-anchor="middle" fill="#111">Distance (km)</text>
<text transform="translate(12.6 244.5) rotate(-90)" font-size="15.4" text-anchor="middle" fill="#111">Depth (km)</text>
<g font-size="13.6" font-style="italic" fill="#111" text-anchor="middle">
<text x="129.4" y="17.3">SWRZ</text><text x="225.3" y="16.1">caldera</text><text x="332.3" y="17.3">NERZ</text>
</g>
<g font-size="13.6" fill="#7d3c98" text-anchor="middle">
<text x="52.2" y="31">A</text><text x="259.5" y="30.6">B</text><text x="357" y="31.2">C</text>
</g>
<g clip-path="url(#cD)">
<rect x="375" y="25" width="335" height="150" fill="#96c85a"/>
<g filter="url(#bl1)">
<path d="M375.0,25.0 C378.0,0.8 390.1,19.2 393.0,25.0 C395.9,30.8 392.2,47.5 392.7,60.0 C393.2,72.5 391.8,86.7 396.0,100.0 C400.2,113.3 408.7,128.3 418.0,140.0 C427.3,151.7 459.2,165.0 452.0,170.0 C444.8,175.0 387.8,194.2 375.0,170.0 C362.2,145.8 372.0,49.2 375.0,25.0Z" fill="#7ec47e"/>
<path d="M710.0,25.0 C711.7,43.3 714.7,145.8 710.0,170.0 C705.3,194.2 685.0,176.7 682.0,170.0 C679.0,163.3 689.7,140.0 692.0,130.0 C694.3,120.0 694.7,121.7 696.0,110.0 C697.3,98.3 697.7,74.2 700.0,60.0 C702.3,45.8 708.3,6.7 710.0,25.0Z" fill="#86c574"/>
</g>
<path d="M435.0,45.0 C441.3,40.5 452.5,35.5 470.0,33.0 C487.5,30.5 515.8,30.3 540.0,30.0 C564.2,29.7 596.7,29.0 615.0,31.0 C633.3,33.0 642.2,37.2 650.0,42.0 C657.8,46.8 659.8,53.7 662.0,60.0 C664.2,66.3 663.7,74.2 663.0,80.0 C662.3,85.8 661.0,89.7 658.0,95.0 C655.0,100.3 651.0,106.5 645.0,112.0 C639.0,117.5 631.2,123.5 622.0,128.0 C612.8,132.5 602.8,136.0 590.0,139.0 C577.2,142.0 558.7,144.8 545.0,146.0 C531.3,147.2 520.5,148.0 508.0,146.0 C495.5,144.0 480.5,139.7 470.0,134.0 C459.5,128.3 451.2,121.0 445.0,112.0 C438.8,103.0 435.2,88.7 433.0,80.0 C430.8,71.3 431.7,65.8 432.0,60.0 C432.3,54.2 428.7,49.5 435.0,45.0Z" fill="#bcd64c" filter="url(#bl2)"/>
<path d="M482.7,35.5 C472.7,37.6 465.0,42.2 460.2,45.6 C455.4,49.0 454.8,51.4 453.9,55.6 C453.0,59.8 453.2,64.9 455.1,70.7 C457.0,76.5 461.0,84.4 465.2,90.7 C469.4,97.0 475.2,103.3 480.2,108.3 C485.2,113.3 488.6,117.4 495.3,120.8 C502.0,124.2 511.3,126.7 520.4,128.4 C529.5,130.1 540.5,131.3 550.0,130.9 C559.5,130.5 569.6,128.4 577.6,125.9 C585.6,123.4 591.4,120.0 597.7,115.8 C604.0,111.6 610.3,105.8 615.3,100.8 C620.3,95.8 624.7,90.7 627.8,85.7 C630.9,80.7 633.0,76.1 634.1,70.7 C635.2,65.3 634.7,59.0 634.1,53.1 C633.5,47.2 633.4,38.9 630.3,35.5 C627.2,32.1 627.0,33.6 615.3,33.0 C603.6,32.4 575.9,32.0 560.0,32.0 C544.1,32.0 532.9,32.4 520.0,33.0 C507.1,33.6 492.7,33.4 482.7,35.5Z" fill="#f3e23c" filter="url(#bl1)"/>
<path d="M488.0,44.0 C491.2,40.0 483.8,40.7 500.0,40.0 C516.2,39.3 569.7,38.7 585.0,40.0 C600.3,41.3 590.7,41.3 592.0,48.0 C593.3,54.7 594.2,72.5 593.0,80.0 C591.8,87.5 593.8,90.2 585.0,93.0 C576.2,95.8 554.2,96.7 540.0,97.0 C525.8,97.3 509.0,96.8 500.0,95.0 C491.0,93.2 489.2,91.2 486.0,86.0 C482.8,80.8 480.7,71.0 481.0,64.0 C481.3,57.0 484.8,48.0 488.0,44.0Z" fill="#f6ad38" filter="url(#bl2)"/>
<path d="M492.0,46.0 C494.0,43.0 484.3,44.3 500.0,44.0 C515.7,43.7 571.0,43.0 586.0,44.0 C601.0,45.0 589.3,44.0 590.0,50.0 C590.7,56.0 590.8,73.7 590.0,80.0 C589.2,86.3 593.3,86.3 585.0,88.0 C576.7,89.7 554.2,90.0 540.0,90.0 C525.8,90.0 508.3,89.7 500.0,88.0 C491.7,86.3 492.0,84.3 490.0,80.0 C488.0,75.7 487.7,67.7 488.0,62.0 C488.3,56.3 490.0,49.0 492.0,46.0Z" fill="#f39433" filter="url(#bl2)"/>
<rect x="498" y="40.8" width="89" height="8.5" fill="#e12a28" filter="url(#bl1)"/>
<rect x="503" y="41" width="78" height="3" fill="#b81c22" filter="url(#bl05)"/>
<rect x="584.5" y="47" width="4.5" height="35" fill="#e3302a" filter="url(#bl05)"/>
<rect x="499" y="79.5" width="87" height="4" fill="#e8482b" filter="url(#bl05)"/>
<rect x="495" y="47" width="5" height="35" fill="#f07a2e" filter="url(#bl1)"/>
<rect x="499.4" y="48.3" width="85.6" height="32.9" fill="#fff"/>
<path d="M505.3,94.5 L581.4,92 L581.4,115.6 L505.3,115.6 Z" fill="#f3e23c" stroke="#1a1a1a" stroke-width="0.9"/>
<path d="M505.3,105 L581.4,102.5 L581.4,115.6 L505.3,115.6 Z" fill="#9cca56" stroke="#1a1a1a" stroke-width="0.9"/>
<path d="M505.3,115.6 L520,118 L560,118.5 L581.4,115.6" fill="none" stroke="#1a1a1a" stroke-width="0.9"/>
<text x="523.9" y="68.2" font-size="11.2" textLength="36.2" lengthAdjust="spacingAndGlyphs" fill="#111">8.3 MPa</text>
<path d="M495.3,36.8 C483.2,38.1 474.2,39.7 467.7,41.8 C461.2,43.9 458.5,46.2 456.4,49.3 C454.3,52.4 454.5,56.2 455.1,60.6 C455.7,65.0 457.7,70.7 460.2,75.7 C462.7,80.7 466.4,86.1 470.2,90.7 C473.9,95.3 478.1,99.1 482.7,103.3 C487.3,107.5 492.4,112.0 497.8,115.8 C503.2,119.6 506.7,123.7 515.4,125.9 C524.1,128.1 540.5,129.4 550.0,129.2 C559.5,129.0 565.9,126.8 572.6,124.6 C579.3,122.4 585.0,118.5 590.2,115.8 C595.4,113.1 598.6,112.1 604.0,108.3 C609.4,104.5 618.0,98.2 622.8,93.2 C627.6,88.2 630.7,83.6 632.8,78.2 C634.9,72.8 635.2,66.5 635.4,60.6 C635.6,54.7 635.4,47.2 634.1,43.0 C632.8,38.8 635.1,37.0 627.8,35.5 C620.5,34.0 604.8,34.5 590.2,34.3 C575.6,34.0 555.8,33.6 540.0,34.0 C524.2,34.4 507.4,35.5 495.3,36.8Z" fill="none" stroke="#1a1a1a" stroke-width="0.9" />
<path d="M495.3,41.8 C484.5,43.5 479.6,44.5 475.2,46.8 C470.8,49.1 469.7,51.6 468.9,55.6 C468.1,59.6 468.7,65.7 470.2,70.7 C471.7,75.7 473.9,81.1 477.7,85.7 C481.5,90.3 488.6,94.1 492.8,98.3 C497.0,102.5 498.3,107.3 502.8,110.8 C507.3,114.3 512.1,117.8 520.0,119.5 C527.9,121.2 539.5,121.6 550.0,121.0 C560.5,120.4 576.4,117.9 582.7,115.8 C589.0,113.7 586.0,110.8 587.7,108.3 C589.4,105.8 590.2,104.1 592.7,100.8 C595.2,97.5 599.8,92.0 602.7,88.2 C605.6,84.4 608.4,82.0 610.3,78.2 C612.2,74.4 613.6,69.4 614.0,65.6 C614.4,61.8 614.3,59.4 612.8,55.6 C611.3,51.8 609.8,46.4 605.2,43.0 C600.6,39.6 596.1,36.6 585.2,35.5 C574.3,34.4 555.0,35.5 540.0,36.5 C525.0,37.5 506.1,40.1 495.3,41.8Z" fill="none" stroke="#1a1a1a" stroke-width="0.9" />
<path d="M495.3,48.0 C493.6,48.4 487.1,48.1 485.2,50.6 C483.3,53.1 483.8,58.9 484.0,63.1 C484.2,67.3 484.5,72.9 486.5,75.7 C488.5,78.5 494.4,79.3 496.0,80.0" fill="none" stroke="#1a1a1a" stroke-width="0.9" />
<path d="M585.2,48.0 C585.8,50.1 588.7,56.4 588.9,60.6 C589.1,64.8 587.4,69.0 586.4,73.2 C585.4,77.4 583.5,80.7 582.7,85.7 C581.9,90.7 581.6,100.4 581.4,103.3" fill="none" stroke="#1a1a1a" stroke-width="0.9" />
<path d="M498.0,44.0 C501.7,43.6 513.0,41.7 520.0,41.5 C527.0,41.3 534.7,42.8 540.0,43.0 C545.3,43.2 550.0,43.0 552.0,43.0" fill="none" stroke="#1a1a1a" stroke-width="0.9" />
<path d="M572.6,44.3 C574.3,44.7 580.5,46.0 582.7,46.8 C584.9,47.6 585.5,48.6 586.0,49.0" fill="none" stroke="#1a1a1a" stroke-width="0.9" />
<path d="M499.0,82.0 L520.0,82.5" fill="none" stroke="#1a1a1a" stroke-width="0.9" />
<path d="M540.0,84.0 L581.0,82.5" fill="none" stroke="#1a1a1a" stroke-width="0.9" />
<line x1="542.6" y1="33" x2="542.6" y2="48.2" stroke="#f4f4f4" stroke-width="0.9" stroke-dasharray="3,2" opacity="0.9"/>
<line x1="542.6" y1="80.8" x2="542.6" y2="166" stroke="#f4f4f4" stroke-width="0.9" stroke-dasharray="3,2" opacity="0.9"/>
<line x1="587.9" y1="33" x2="587.9" y2="166" stroke="#f4f4f4" stroke-width="0.9" stroke-dasharray="3,2" opacity="0.9"/>
<text x="0" y="0" font-size="10.4" fill="#111" text-anchor="middle" dominant-baseline="central" stroke="#e84a2c" stroke-width="2.6" paint-order="stroke" stroke-linejoin="round" transform="translate(561.2 43.2) rotate(0)">5.00</text>
<text x="0" y="0" font-size="10.4" fill="#111" text-anchor="middle" dominant-baseline="central" stroke="#f6b63a" stroke-width="2.6" paint-order="stroke" stroke-linejoin="round" transform="translate(529 85.4) rotate(0)">5.00</text>
<text x="0" y="0" font-size="10.4" fill="#111" text-anchor="middle" dominant-baseline="central" stroke="#f4e03c" stroke-width="2.6" paint-order="stroke" stroke-linejoin="round" transform="translate(480.8 88) rotate(40)">1.00</text>
<text x="0" y="0" font-size="10.4" fill="#111" text-anchor="middle" dominant-baseline="central" stroke="#f6bf3e" stroke-width="2.6" paint-order="stroke" stroke-linejoin="round" transform="translate(487.4 58) rotate(-90)">1.00</text>
<text x="0" y="0" font-size="10.4" fill="#111" text-anchor="middle" dominant-baseline="central" transform="translate(548 112.5) rotate(-8)">0.50</text>
<text x="0" y="0" font-size="10.4" fill="#111" text-anchor="middle" dominant-baseline="central" stroke="#f3e23c" stroke-width="2.6" paint-order="stroke" stroke-linejoin="round" transform="translate(604 108.3) rotate(-25)">0.50</text>
</g>
<path d="M382.0,41.5 C391.7,40.8 420.3,38.8 440.0,37.5 C459.7,36.2 480.0,34.5 500.0,33.8 C520.0,33.0 540.0,32.8 560.0,33.0 C580.0,33.2 596.2,34.1 620.0,35.0 C643.8,35.9 689.2,37.7 703.0,38.2" fill="none" stroke="#111" stroke-width="1.3" stroke-dasharray="4.2,2.1"/>
<rect x="382.2" y="2" width="321" height="164.5" fill="none" stroke="#000" stroke-width="1.5"/>
<text x="389.6" y="163.4" font-size="15.6" font-style="italic" fill="#2e3192">2014-2020</text>
<text x="384.8" y="60.8" font-size="13.5" font-weight="bold" fill="#111">d.</text>
<rect x="619.2" y="133.79999999999998" width="83" height="31.6" fill="#e8f0dc" opacity="0.94"/>
<rect x="628.2" y="135.7" width="59.9" height="13.2" fill="url(#cbar)" stroke="#666" stroke-width="0.6"/>
<line x1="628.2" y1="148.89999999999998" x2="628.2" y2="151.39999999999998" stroke="#666" stroke-width="0.6"/>
<line x1="688.1" y1="148.89999999999998" x2="688.1" y2="151.39999999999998" stroke="#666" stroke-width="0.6"/>
<text x="619.6" y="164.2" font-size="11.7" fill="#111">&#8722;15</text>
<text x="660.0500000000001" y="164.2" font-size="11.7" text-anchor="middle" fill="#111">MPa</text>
<text x="683.4000000000001" y="164.2" font-size="11.7" fill="#111">15</text>
<g font-size="13.6" font-style="italic" fill="#111" text-anchor="middle">
<text x="465.6" y="17.3">SWRZ</text><text x="563.1" y="16.1">caldera</text><text x="668.5" y="17.3">NERZ</text>
</g>
<g font-size="13.6" fill="#7d3c98" text-anchor="middle">
<text x="390.1" y="30.6">A</text><text x="597.3" y="31.3">B</text><text x="694.2" y="32.3">C</text>
</g>
<line x1="382.2" y1="166.5" x2="382.2" y2="174.2" stroke="#000" stroke-width="2.5"/>
<text x="383.2" y="187.8" font-size="12.5" text-anchor="middle" fill="#111">0</text>
<line x1="425.8" y1="166.5" x2="425.8" y2="174.2" stroke="#000" stroke-width="2.5"/>
<text x="426.8" y="187.8" font-size="12.5" text-anchor="middle" fill="#111">5</text>
<line x1="469.3" y1="166.5" x2="469.3" y2="174.2" stroke="#000" stroke-width="2.5"/>
<text x="470.3" y="187.8" font-size="12.5" text-anchor="middle" fill="#111">10</text>
<line x1="512.9" y1="166.5" x2="512.9" y2="174.2" stroke="#000" stroke-width="2.5"/>
<text x="513.9" y="187.8" font-size="12.5" text-anchor="middle" fill="#111">15</text>
<line x1="556.5" y1="166.5" x2="556.5" y2="174.2" stroke="#000" stroke-width="2.5"/>
<text x="557.5" y="187.8" font-size="12.5" text-anchor="middle" fill="#111">20</text>
<line x1="600.0" y1="166.5" x2="600.0" y2="174.2" stroke="#000" stroke-width="2.5"/>
<text x="601.0" y="187.8" font-size="12.5" text-anchor="middle" fill="#111">25</text>
<line x1="643.6" y1="166.5" x2="643.6" y2="174.2" stroke="#000" stroke-width="2.5"/>
<text x="644.6" y="187.8" font-size="12.5" text-anchor="middle" fill="#111">30</text>
<line x1="687.2" y1="166.5" x2="687.2" y2="174.2" stroke="#000" stroke-width="2.5"/>
<text x="688.2" y="187.8" font-size="12.5" text-anchor="middle" fill="#111">35</text>
<g clip-path="url(#cE)">
<rect x="400" y="185" width="310" height="265" fill="#a8d287"/>
<rect x="400" y="185" width="310" height="70" fill="#acd48a" filter="url(#bl2)"/>
<g transform="rotate(-35 555 318)"><rect x="330" y="100" width="450" height="440" fill="#fff" opacity="0.12" filter="url(#tex)"/></g>
<defs><radialGradient id="gUL" gradientUnits="userSpaceOnUse" cx="472" cy="288" r="54" fx="498.6" fy="301.3"><stop offset="0" stop-color="#ec3a2a"/><stop offset="0.2" stop-color="#f0642c"/><stop offset="0.36" stop-color="#f38a2f"/><stop offset="0.52" stop-color="#f5b03a"/><stop offset="0.75" stop-color="#f7cc47"/><stop offset="1" stop-color="#f7d64f"/></radialGradient><radialGradient id="gLR" gradientUnits="userSpaceOnUse" cx="588" cy="344" r="50" fx="558.8" fy="329"><stop offset="0" stop-color="#ec3a2a"/><stop offset="0.18" stop-color="#f06a2c"/><stop offset="0.33" stop-color="#f4962f"/><stop offset="0.5" stop-color="#f6bd3f"/><stop offset="0.75" stop-color="#f7ce49"/><stop offset="1" stop-color="#f7d751"/></radialGradient></defs>
<path d="M398.0,227.0 C399.6,211.4 402.2,227.2 407.7,226.3 C413.2,225.4 423.8,222.2 430.9,221.6 C437.9,221.0 444.6,221.9 450.0,222.6 C455.4,223.3 458.3,224.0 463.0,225.8 C467.7,227.6 473.0,230.4 478.0,233.3 C483.0,236.2 488.9,239.6 493.2,243.0 C497.5,246.4 500.8,250.3 504.0,253.9 C507.2,257.5 510.1,261.0 512.6,264.6 C515.1,268.2 517.2,271.8 519.0,275.4 C520.8,279.0 522.3,282.9 523.4,286.2 C524.5,289.4 525.0,292.4 525.5,294.9 C526.0,297.4 526.6,298.5 526.6,301.3 C526.6,304.1 528.1,308.1 525.7,311.5 C523.3,314.9 518.3,318.8 512.0,322.0 C505.7,325.2 496.4,328.7 488.0,331.0 C479.6,333.3 469.8,335.3 461.8,335.9 C453.8,336.5 447.4,335.9 440.2,334.4 C433.0,332.8 423.9,328.7 418.5,326.6 C413.1,324.5 411.1,323.1 407.7,322.0 C404.3,320.9 399.6,335.8 398.0,320.0 C396.4,304.2 396.4,242.6 398.0,227.0Z" fill="#f6e466"/>
<path d="M424.7,271.0 C426.7,266.2 430.8,261.6 435.0,258.0 C439.2,254.4 443.9,250.7 450.0,249.5 C456.1,248.3 464.4,249.5 471.6,250.6 C478.8,251.7 487.5,253.7 493.2,256.0 C498.9,258.3 502.4,261.4 506.0,264.6 C509.6,267.8 512.6,271.8 514.8,275.4 C517.0,279.0 517.9,282.6 519.0,286.2 C520.1,289.8 520.8,293.8 521.2,297.0 C521.6,300.2 522.1,302.9 521.2,305.7 C520.3,308.5 518.9,311.4 516.0,314.0 C513.1,316.6 509.2,319.0 504.0,321.0 C498.8,323.0 491.0,325.1 485.0,326.0 C479.0,326.9 474.4,327.3 468.0,326.6 C461.6,325.9 453.0,325.1 446.3,322.0 C439.6,318.9 431.7,313.9 427.8,308.0 C423.9,302.1 423.7,292.7 423.2,286.5 C422.7,280.3 422.7,275.8 424.7,271.0Z" fill="url(#gUL)" filter="url(#bl05)"/>
<circle cx="498.6" cy="301.3" r="11.2" fill="#e8282c"/>
<path d="M533.0,332.0 C533.0,327.9 534.3,325.3 535.5,322.0 C536.7,318.7 538.1,314.8 540.0,312.0 C541.9,309.2 544.3,307.0 547.0,305.0 C549.7,303.0 552.8,301.3 556.0,300.0 C559.2,298.7 561.7,297.9 566.0,297.0 C570.3,296.1 577.0,295.1 582.0,294.5 C587.0,293.9 589.1,293.0 596.3,293.2 C603.5,293.4 616.0,292.9 625.1,295.9 C634.2,298.9 644.0,305.3 651.1,311.0 C658.2,316.7 663.8,324.7 667.8,330.0 C671.8,335.3 673.5,338.4 675.2,343.0 C676.9,347.6 677.5,353.8 678.0,357.8 C678.5,361.8 678.3,363.3 678.0,367.0 C677.7,370.7 677.2,376.0 676.1,380.0 C675.0,384.0 673.8,387.4 671.5,391.1 C669.2,394.8 665.6,399.1 662.2,402.2 C658.8,405.3 656.3,407.4 651.1,409.6 C645.9,411.8 639.1,415.0 630.9,415.5 C622.7,416.0 610.8,415.0 602.1,412.6 C593.5,410.2 586.2,405.9 579.0,401.1 C571.8,396.3 564.6,390.1 558.8,383.8 C553.0,377.6 548.2,369.9 544.4,363.6 C540.6,357.4 537.7,351.6 535.8,346.3 C533.9,341.0 533.0,336.1 533.0,332.0Z" fill="#f5e46a"/>
<path d="M535.8,331.9 C536.3,325.6 537.7,316.5 541.5,311.7 C545.3,306.9 551.1,304.8 558.8,303.1 C566.5,301.4 579.1,300.9 587.7,301.6 C596.4,302.3 604.0,303.8 610.7,307.4 C617.4,311.0 624.1,316.7 628.0,323.2 C631.9,329.7 633.8,339.1 633.8,346.3 C633.8,353.5 631.9,360.7 628.0,366.5 C624.1,372.3 617.4,377.8 610.7,380.9 C604.0,384.0 595.4,385.2 587.7,385.2 C580.0,385.2 570.9,383.5 564.6,380.9 C558.4,378.3 554.5,374.7 550.2,369.4 C545.9,364.1 541.0,355.4 538.6,349.2 C536.2,342.9 535.3,338.1 535.8,331.9Z" fill="url(#gLR)" filter="url(#bl05)"/>
<circle cx="558.8" cy="329" r="10.1" fill="#e8282c"/>
<path d="M570.4,313.2 L596.3,320.4 L577.6,360.7 L557.4,352.1 Z" fill="#fbece4" opacity="0.88"/>
<path d="M535.4,252.3 C537.4,252.2 540.8,253.3 542.5,255.6 C544.2,257.9 545.2,262.6 545.6,266.0 C546.0,269.4 545.0,273.2 544.6,276.2 C544.2,279.2 542.7,282.2 543.5,284.0 C544.3,285.8 546.8,286.1 549.4,286.9 C552.0,287.7 556.4,288.0 559.3,288.6 C562.2,289.2 565.9,289.7 567.0,290.5 C568.1,291.3 568.3,292.8 565.8,293.5 C563.3,294.2 555.8,294.1 552.0,295.0 C548.2,295.9 544.8,297.2 543.0,299.0 C541.2,300.8 542.2,302.8 541.5,306.0 C540.8,309.2 539.8,314.9 538.5,318.5 C537.2,322.1 535.0,324.7 533.9,327.8 C532.8,330.9 531.9,333.3 531.8,337.0 C531.6,340.7 532.8,345.7 533.0,350.0 C533.2,354.3 533.3,359.0 533.0,363.0 C532.7,367.0 532.3,371.0 531.1,374.1 C529.9,377.2 527.5,380.6 525.6,381.5 C523.8,382.4 521.5,381.5 520.0,379.6 C518.5,377.8 517.2,374.4 516.3,370.4 C515.4,366.4 514.7,359.7 514.4,355.6 C514.1,351.5 514.8,347.5 514.5,346.0 C514.2,344.5 514.5,345.2 512.6,346.8 C510.7,348.4 506.4,352.6 503.3,355.6 C500.2,358.6 496.9,362.7 494.1,364.8 C491.3,366.9 489.2,368.2 486.7,368.5 C484.2,368.8 480.9,367.9 479.3,366.7 C477.8,365.5 477.1,363.3 477.4,361.1 C477.7,358.9 478.9,356.5 481.1,353.7 C483.3,350.9 486.7,347.5 490.4,344.4 C494.1,341.3 499.0,338.3 503.3,335.2 C507.6,332.1 513.3,328.4 516.3,325.9 C519.3,323.4 520.2,322.8 521.4,320.0 C522.6,317.2 522.5,311.9 523.5,309.0 C524.5,306.1 526.5,305.1 527.5,302.6 C528.5,300.2 529.3,297.1 529.5,294.3 C529.7,291.6 528.9,289.1 528.5,286.1 C528.1,283.1 527.2,279.5 527.0,276.2 C526.8,272.9 526.4,269.7 527.0,266.3 C527.6,262.9 529.1,258.3 530.5,256.0 C531.9,253.7 533.4,252.4 535.4,252.3Z" fill="#78cad8" filter="url(#bl05)"/>
<path d="M530.0,300.0 C531.5,298.8 535.7,297.0 537.0,298.0 C538.3,299.0 538.0,303.0 538.0,306.0 C538.0,309.0 537.5,312.7 536.7,316.0 C535.9,319.3 534.6,323.2 533.0,326.0 C531.4,328.8 529.0,331.0 527.0,333.0 C525.0,335.0 522.7,337.7 521.0,338.0 C519.3,338.3 516.8,337.0 517.0,335.0 C517.2,333.0 520.5,329.5 522.0,326.0 C523.5,322.5 525.0,317.5 526.0,314.0 C527.0,310.5 527.3,307.3 528.0,305.0 C528.7,302.7 528.5,301.2 530.0,300.0Z" fill="#3fbde8" filter="url(#bl1)"/>
<path d="M531.0,265.0 C532.7,264.3 536.7,265.2 538.0,268.0 C539.3,270.8 539.3,277.3 539.0,282.0 C538.7,286.7 537.5,293.3 536.0,296.0 C534.5,298.7 531.3,299.8 530.0,298.0 C528.7,296.2 528.3,289.3 528.0,285.0 C527.7,280.7 527.5,275.3 528.0,272.0 C528.5,268.7 529.3,265.7 531.0,265.0Z" fill="#68c6dc" filter="url(#bl1)"/>
<path d="M398.0,227.0 C399.6,211.4 402.2,227.2 407.7,226.3 C413.2,225.4 423.8,222.2 430.9,221.6 C437.9,221.0 444.6,221.9 450.0,222.6 C455.4,223.3 458.3,224.0 463.0,225.8 C467.7,227.6 473.0,230.4 478.0,233.3 C483.0,236.2 488.9,239.6 493.2,243.0 C497.5,246.4 500.8,250.3 504.0,253.9 C507.2,257.5 510.1,261.0 512.6,264.6 C515.1,268.2 517.2,271.8 519.0,275.4 C520.8,279.0 522.3,282.9 523.4,286.2 C524.5,289.4 525.0,292.4 525.5,294.9 C526.0,297.4 526.6,298.5 526.6,301.3 C526.6,304.1 528.1,308.1 525.7,311.5 C523.3,314.9 518.3,318.8 512.0,322.0 C505.7,325.2 496.4,328.7 488.0,331.0 C479.6,333.3 469.8,335.3 461.8,335.9 C453.8,336.5 447.4,335.9 440.2,334.4 C433.0,332.8 423.9,328.7 418.5,326.6 C413.1,324.5 411.1,323.1 407.7,322.0 C404.3,320.9 399.6,335.8 398.0,320.0 C396.4,304.2 396.4,242.6 398.0,227.0Z" fill="none" stroke="#1a1a1a" stroke-width="0.9" />
<path d="M424.7,271.0 C426.7,266.2 430.8,261.6 435.0,258.0 C439.2,254.4 443.9,250.7 450.0,249.5 C456.1,248.3 464.4,249.5 471.6,250.6 C478.8,251.7 487.5,253.7 493.2,256.0 C498.9,258.3 502.4,261.4 506.0,264.6 C509.6,267.8 512.6,271.8 514.8,275.4 C517.0,279.0 517.9,282.6 519.0,286.2 C520.1,289.8 520.8,293.8 521.2,297.0 C521.6,300.2 522.1,302.9 521.2,305.7 C520.3,308.5 518.9,311.4 516.0,314.0 C513.1,316.6 509.2,319.0 504.0,321.0 C498.8,323.0 491.0,325.1 485.0,326.0 C479.0,326.9 474.4,327.3 468.0,326.6 C461.6,325.9 453.0,325.1 446.3,322.0 C439.6,318.9 431.7,313.9 427.8,308.0 C423.9,302.1 423.7,292.7 423.2,286.5 C422.7,280.3 422.7,275.8 424.7,271.0Z" fill="none" stroke="#1a1a1a" stroke-width="0.9" />
<path d="M463.0,292.7 C463.9,287.6 467.7,281.0 471.6,277.6 C475.6,274.2 481.3,272.9 486.7,272.2 C492.1,271.5 499.7,272.0 504.0,273.3 C508.3,274.6 510.4,276.9 512.6,279.8 C514.8,282.7 516.0,286.6 517.0,290.5 C518.0,294.4 519.3,298.9 518.5,303.0 C517.7,307.1 516.1,311.8 512.0,315.0 C507.9,318.2 499.8,321.5 494.0,322.0 C488.2,322.5 481.7,320.3 477.0,318.0 C472.3,315.7 468.3,312.2 466.0,308.0 C463.7,303.8 462.1,297.8 463.0,292.7Z" fill="none" stroke="#1a1a1a" stroke-width="0.9" />
<path d="M533.0,332.0 C533.0,327.9 534.3,325.3 535.5,322.0 C536.7,318.7 538.1,314.8 540.0,312.0 C541.9,309.2 544.3,307.0 547.0,305.0 C549.7,303.0 552.8,301.3 556.0,300.0 C559.2,298.7 561.7,297.9 566.0,297.0 C570.3,296.1 577.0,295.1 582.0,294.5 C587.0,293.9 589.1,293.0 596.3,293.2 C603.5,293.4 616.0,292.9 625.1,295.9 C634.2,298.9 644.0,305.3 651.1,311.0 C658.2,316.7 663.8,324.7 667.8,330.0 C671.8,335.3 673.5,338.4 675.2,343.0 C676.9,347.6 677.5,353.8 678.0,357.8 C678.5,361.8 678.3,363.3 678.0,367.0 C677.7,370.7 677.2,376.0 676.1,380.0 C675.0,384.0 673.8,387.4 671.5,391.1 C669.2,394.8 665.6,399.1 662.2,402.2 C658.8,405.3 656.3,407.4 651.1,409.6 C645.9,411.8 639.1,415.0 630.9,415.5 C622.7,416.0 610.8,415.0 602.1,412.6 C593.5,410.2 586.2,405.9 579.0,401.1 C571.8,396.3 564.6,390.1 558.8,383.8 C553.0,377.6 548.2,369.9 544.4,363.6 C540.6,357.4 537.7,351.6 535.8,346.3 C533.9,341.0 533.0,336.1 533.0,332.0Z" fill="none" stroke="#1a1a1a" stroke-width="0.9" />
<path d="M535.8,331.9 C536.3,325.6 537.7,316.5 541.5,311.7 C545.3,306.9 551.1,304.8 558.8,303.1 C566.5,301.4 579.1,300.9 587.7,301.6 C596.4,302.3 604.0,303.8 610.7,307.4 C617.4,311.0 624.1,316.7 628.0,323.2 C631.9,329.7 633.8,339.1 633.8,346.3 C633.8,353.5 631.9,360.7 628.0,366.5 C624.1,372.3 617.4,377.8 610.7,380.9 C604.0,384.0 595.4,385.2 587.7,385.2 C580.0,385.2 570.9,383.5 564.6,380.9 C558.4,378.3 554.5,374.7 550.2,369.4 C545.9,364.1 541.0,355.4 538.6,349.2 C536.2,342.9 535.3,338.1 535.8,331.9Z" fill="none" stroke="#1a1a1a" stroke-width="0.9" />
<path d="M541.5,317.5 C545.0,314.5 552.1,309.8 558.8,308.8 C565.5,307.8 576.1,308.8 581.9,311.7 C587.7,314.6 591.7,320.3 593.4,326.1 C595.1,331.9 593.9,341.0 592.0,346.3 C590.1,351.6 586.5,355.9 581.9,357.8 C577.3,359.7 570.4,359.2 564.6,357.8 C558.8,356.4 551.6,352.6 547.3,349.2 C543.0,345.8 540.2,341.4 538.6,337.7 C537.0,334.0 537.0,330.4 537.5,327.0 C538.0,323.6 538.0,320.5 541.5,317.5Z" fill="none" stroke="#1a1a1a" stroke-width="0.9" />
<circle cx="498.6" cy="301.3" r="11.2" fill="none" stroke="#1a1a1a" stroke-width="0.9"/>
<circle cx="558.8" cy="329" r="10.1" fill="none" stroke="#1a1a1a" stroke-width="0.9"/>
<path d="M526.3,273.0 C527.4,271.6 530.9,271.4 533.0,271.5 C535.1,271.6 537.6,272.4 538.7,273.7 C539.8,275.0 539.6,276.9 539.5,279.5 C539.4,282.1 538.8,286.3 537.9,289.4 C537.0,292.5 535.6,294.6 534.0,298.0 C532.4,301.4 530.2,306.0 528.0,310.0 C525.8,314.0 523.2,318.7 521.0,322.0 C518.8,325.3 516.7,329.2 515.0,330.0 C513.3,330.8 510.5,329.7 511.0,327.0 C511.5,324.3 515.7,318.5 518.0,314.0 C520.3,309.5 523.3,304.3 525.0,300.0 C526.7,295.7 527.8,291.3 528.0,288.0 C528.2,284.7 526.8,282.5 526.5,280.0 C526.2,277.5 525.2,274.4 526.3,273.0Z" fill="none" stroke="#1a1a1a" stroke-width="0.8" stroke-dasharray="2.4,1.6"/>
<path d="M541.0,294.3 C541.8,292.9 546.1,289.7 549.4,289.4 C552.7,289.1 560.2,291.3 561.0,292.7 C561.8,294.1 557.1,296.8 554.3,297.6 C551.5,298.4 546.6,298.2 544.4,297.6 C542.2,297.1 540.2,295.7 541.0,294.3Z" fill="none" stroke="#1a1a1a" stroke-width="0.8" stroke-dasharray="2.4,1.6"/>
<path d="M530.0,322.0 C531.7,323.3 534.0,333.7 534.0,340.0 C534.0,346.3 531.7,355.3 530.0,360.0 C528.3,364.7 525.7,369.3 524.0,368.0 C522.3,366.7 520.0,358.0 520.0,352.0 C520.0,346.0 522.3,337.0 524.0,332.0 C525.7,327.0 528.3,320.7 530.0,322.0Z" fill="none" stroke="#1a1a1a" stroke-width="0.8" stroke-dasharray="2.4,1.6"/>
<path d="M506.0,340.0 C507.5,338.5 510.7,336.3 512.0,337.0 C513.3,337.7 514.7,342.0 514.0,344.0 C513.3,346.0 509.8,348.7 508.0,349.0 C506.2,349.3 503.3,347.5 503.0,346.0 C502.7,344.5 504.5,341.5 506.0,340.0Z" fill="none" stroke="#1a1a1a" stroke-width="0.7" stroke-dasharray="2.4,1.6"/>
<circle cx="472.9" cy="304.2" r="1.8" fill="none" stroke="#6c6c6c" stroke-width="0.75"/>
<circle cx="473.5" cy="289.3" r="1.8" fill="none" stroke="#6c6c6c" stroke-width="0.75"/>
<circle cx="459.4" cy="291.2" r="1.8" fill="none" stroke="#6c6c6c" stroke-width="0.75"/>
<circle cx="500.2" cy="302.6" r="1.8" fill="none" stroke="#6c6c6c" stroke-width="0.75"/>
<circle cx="498.7" cy="299.5" r="1.8" fill="none" stroke="#6c6c6c" stroke-width="0.75"/>
<circle cx="485.9" cy="298.3" r="1.8" fill="none" stroke="#6c6c6c" stroke-width="0.75"/>
<circle cx="444.7" cy="310.4" r="1.8" fill="none" stroke="#6c6c6c" stroke-width="0.75"/>
<circle cx="488.1" cy="304.0" r="1.8" fill="none" stroke="#6c6c6c" stroke-width="0.75"/>
<circle cx="444.2" cy="263.6" r="1.8" fill="none" stroke="#6c6c6c" stroke-width="0.75"/>
<circle cx="460.2" cy="286.6" r="1.8" fill="none" stroke="#6c6c6c" stroke-width="0.75"/>
<circle cx="484.1" cy="294.2" r="1.8" fill="none" stroke="#6c6c6c" stroke-width="0.75"/>
<circle cx="488.4" cy="283.4" r="1.8" fill="none" stroke="#6c6c6c" stroke-width="0.75"/>
<circle cx="484.2" cy="302.1" r="1.8" fill="none" stroke="#6c6c6c" stroke-width="0.75"/>
<circle cx="464.8" cy="325.9" r="1.8" fill="none" stroke="#6c6c6c" stroke-width="0.75"/>
<circle cx="489.1" cy="316.5" r="1.8" fill="none" stroke="#6c6c6c" stroke-width="0.75"/>
<circle cx="465.6" cy="281.7" r="1.8" fill="none" stroke="#6c6c6c" stroke-width="0.75"/>
<circle cx="471.1" cy="293.1" r="1.8" fill="none" stroke="#6c6c6c" stroke-width="0.75"/>
<circle cx="490.6" cy="299.5" r="1.8" fill="none" stroke="#6c6c6c" stroke-width="0.75"/>
<circle cx="469.1" cy="277.8" r="1.8" fill="none" stroke="#6c6c6c" stroke-width="0.75"/>
<circle cx="467.6" cy="317.0" r="1.8" fill="none" stroke="#6c6c6c" stroke-width="0.75"/>
<circle cx="461.8" cy="299.4" r="1.8" fill="none" stroke="#6c6c6c" stroke-width="0.75"/>
<circle cx="486.5" cy="268.2" r="1.8" fill="none" stroke="#6c6c6c" stroke-width="0.75"/>
<circle cx="479.0" cy="318.5" r="1.8" fill="none" stroke="#6c6c6c" stroke-width="0.75"/>
<circle cx="437.7" cy="289.2" r="1.8" fill="none" stroke="#6c6c6c" stroke-width="0.75"/>
<circle cx="475.9" cy="280.3" r="1.8" fill="none" stroke="#6c6c6c" stroke-width="0.75"/>
<circle cx="487.9" cy="293.9" r="1.8" fill="none" stroke="#6c6c6c" stroke-width="0.75"/>
<circle cx="448.7" cy="309.9" r="1.8" fill="none" stroke="#6c6c6c" stroke-width="0.75"/>
<circle cx="491.4" cy="312.0" r="1.8" fill="none" stroke="#6c6c6c" stroke-width="0.75"/>
<circle cx="506.8" cy="301.5" r="1.8" fill="none" stroke="#6c6c6c" stroke-width="0.75"/>
<circle cx="480.4" cy="271.6" r="1.8" fill="none" stroke="#6c6c6c" stroke-width="0.75"/>
<circle cx="490.3" cy="284.0" r="1.8" fill="none" stroke="#6c6c6c" stroke-width="0.75"/>
<circle cx="468.9" cy="272.2" r="1.8" fill="none" stroke="#6c6c6c" stroke-width="0.75"/>
<circle cx="458.6" cy="285.4" r="1.8" fill="none" stroke="#6c6c6c" stroke-width="0.75"/>
<circle cx="503.8" cy="258.4" r="1.8" fill="none" stroke="#6c6c6c" stroke-width="0.75"/>
<circle cx="448.8" cy="299.3" r="1.8" fill="none" stroke="#6c6c6c" stroke-width="0.75"/>
<circle cx="506.9" cy="305.4" r="1.8" fill="none" stroke="#6c6c6c" stroke-width="0.75"/>
<circle cx="440.0" cy="249.7" r="1.8" fill="none" stroke="#6c6c6c" stroke-width="0.75"/>
<circle cx="485.1" cy="281.7" r="1.8" fill="none" stroke="#6c6c6c" stroke-width="0.75"/>
<circle cx="455.6" cy="312.6" r="1.8" fill="none" stroke="#6c6c6c" stroke-width="0.75"/>
<circle cx="500.0" cy="297.8" r="1.8" fill="none" stroke="#6c6c6c" stroke-width="0.75"/>
<circle cx="482.9" cy="302.8" r="1.8" fill="none" stroke="#6c6c6c" stroke-width="0.75"/>
<circle cx="509.9" cy="306.1" r="1.8" fill="none" stroke="#6c6c6c" stroke-width="0.75"/>
<circle cx="488.4" cy="304.9" r="1.8" fill="none" stroke="#6c6c6c" stroke-width="0.75"/>
<circle cx="446.6" cy="318.1" r="1.8" fill="none" stroke="#6c6c6c" stroke-width="0.75"/>
<circle cx="497.1" cy="304.5" r="1.8" fill="none" stroke="#6c6c6c" stroke-width="0.75"/>
<circle cx="438.5" cy="283.6" r="1.8" fill="none" stroke="#6c6c6c" stroke-width="0.75"/>
<circle cx="494.8" cy="262.4" r="1.8" fill="none" stroke="#6c6c6c" stroke-width="0.75"/>
<circle cx="474.3" cy="313.4" r="1.8" fill="none" stroke="#6c6c6c" stroke-width="0.75"/>
<circle cx="451.8" cy="324.0" r="1.8" fill="none" stroke="#6c6c6c" stroke-width="0.75"/>
<circle cx="489.0" cy="292.3" r="1.8" fill="none" stroke="#6c6c6c" stroke-width="0.75"/>
<circle cx="484.5" cy="306.7" r="1.8" fill="none" stroke="#6c6c6c" stroke-width="0.75"/>
<circle cx="480.4" cy="315.6" r="1.8" fill="none" stroke="#6c6c6c" stroke-width="0.75"/>
<circle cx="464.8" cy="287.5" r="1.8" fill="none" stroke="#6c6c6c" stroke-width="0.75"/>
<circle cx="498.8" cy="295.5" r="1.8" fill="none" stroke="#6c6c6c" stroke-width="0.75"/>
<circle cx="460.4" cy="312.0" r="1.8" fill="none" stroke="#6c6c6c" stroke-width="0.75"/>
<circle cx="507.3" cy="287.0" r="1.8" fill="none" stroke="#6c6c6c" stroke-width="0.75"/>
<circle cx="450.4" cy="292.6" r="1.8" fill="none" stroke="#6c6c6c" stroke-width="0.75"/>
<circle cx="475.0" cy="289.6" r="1.8" fill="none" stroke="#6c6c6c" stroke-width="0.75"/>
<circle cx="506.1" cy="276.5" r="1.8" fill="none" stroke="#6c6c6c" stroke-width="0.75"/>
<circle cx="503.2" cy="272.2" r="1.8" fill="none" stroke="#6c6c6c" stroke-width="0.75"/>
<circle cx="462.3" cy="306.4" r="1.8" fill="none" stroke="#6c6c6c" stroke-width="0.75"/>
<circle cx="500.6" cy="310.5" r="1.8" fill="none" stroke="#6c6c6c" stroke-width="0.75"/>
<circle cx="484.9" cy="297.6" r="1.8" fill="none" stroke="#6c6c6c" stroke-width="0.75"/>
<circle cx="481.0" cy="305.4" r="1.8" fill="none" stroke="#6c6c6c" stroke-width="0.75"/>
<circle cx="474.5" cy="300.0" r="1.8" fill="none" stroke="#6c6c6c" stroke-width="0.75"/>
<circle cx="489.5" cy="295.0" r="1.8" fill="none" stroke="#6c6c6c" stroke-width="0.75"/>
<circle cx="493.3" cy="305.2" r="1.8" fill="none" stroke="#6c6c6c" stroke-width="0.75"/>
<circle cx="518.2" cy="300.8" r="1.8" fill="none" stroke="#6c6c6c" stroke-width="0.75"/>
<circle cx="469.4" cy="288.3" r="1.8" fill="none" stroke="#6c6c6c" stroke-width="0.75"/>
<circle cx="477.7" cy="311.6" r="1.8" fill="none" stroke="#6c6c6c" stroke-width="0.75"/>
<circle cx="471.3" cy="301.9" r="1.8" fill="none" stroke="#6c6c6c" stroke-width="0.75"/>
<circle cx="514.7" cy="248.8" r="1.8" fill="none" stroke="#6c6c6c" stroke-width="0.75"/>
<circle cx="455.5" cy="299.4" r="1.8" fill="none" stroke="#6c6c6c" stroke-width="0.75"/>
<circle cx="486.0" cy="299.3" r="1.8" fill="none" stroke="#6c6c6c" stroke-width="0.75"/>
<circle cx="469.4" cy="306.8" r="1.8" fill="none" stroke="#6c6c6c" stroke-width="0.75"/>
<circle cx="483.6" cy="285.6" r="1.8" fill="none" stroke="#6c6c6c" stroke-width="0.75"/>
<circle cx="526.6" cy="301.4" r="1.8" fill="none" stroke="#6c6c6c" stroke-width="0.75"/>
<circle cx="466.9" cy="293.2" r="1.8" fill="none" stroke="#6c6c6c" stroke-width="0.75"/>
<circle cx="473.5" cy="293.9" r="1.8" fill="none" stroke="#6c6c6c" stroke-width="0.75"/>
<circle cx="423.4" cy="286.2" r="1.8" fill="none" stroke="#6c6c6c" stroke-width="0.75"/>
<circle cx="498.2" cy="274.0" r="1.8" fill="none" stroke="#6c6c6c" stroke-width="0.75"/>
<circle cx="476.7" cy="312.2" r="1.8" fill="none" stroke="#6c6c6c" stroke-width="0.75"/>
<circle cx="495.1" cy="321.8" r="1.8" fill="none" stroke="#6c6c6c" stroke-width="0.75"/>
<circle cx="444.0" cy="288.6" r="1.8" fill="none" stroke="#6c6c6c" stroke-width="0.75"/>
<circle cx="471.2" cy="306.2" r="1.8" fill="none" stroke="#6c6c6c" stroke-width="0.75"/>
<circle cx="499.8" cy="246.7" r="1.8" fill="none" stroke="#6c6c6c" stroke-width="0.75"/>
<circle cx="499.8" cy="268.9" r="1.8" fill="none" stroke="#6c6c6c" stroke-width="0.75"/>
<circle cx="491.7" cy="268.1" r="1.8" fill="none" stroke="#6c6c6c" stroke-width="0.75"/>
<circle cx="481.5" cy="316.5" r="1.8" fill="none" stroke="#6c6c6c" stroke-width="0.75"/>
<circle cx="475.0" cy="298.4" r="1.8" fill="none" stroke="#6c6c6c" stroke-width="0.75"/>
<circle cx="493.9" cy="297.5" r="1.8" fill="none" stroke="#6c6c6c" stroke-width="0.75"/>
<circle cx="476.2" cy="322.6" r="1.8" fill="none" stroke="#6c6c6c" stroke-width="0.75"/>
<circle cx="499.0" cy="289.7" r="1.8" fill="none" stroke="#6c6c6c" stroke-width="0.75"/>
<circle cx="532.9" cy="274.4" r="1.8" fill="none" stroke="#6c6c6c" stroke-width="0.75"/>
<circle cx="496.3" cy="290.2" r="1.8" fill="none" stroke="#6c6c6c" stroke-width="0.75"/>
<circle cx="480.6" cy="307.7" r="1.8" fill="none" stroke="#6c6c6c" stroke-width="0.75"/>
<circle cx="482.4" cy="306.5" r="1.8" fill="none" stroke="#6c6c6c" stroke-width="0.75"/>
<circle cx="447.5" cy="267.8" r="1.8" fill="none" stroke="#6c6c6c" stroke-width="0.75"/>
<circle cx="490.3" cy="277.7" r="1.8" fill="none" stroke="#6c6c6c" stroke-width="0.75"/>
<circle cx="457.5" cy="268.5" r="1.8" fill="none" stroke="#6c6c6c" stroke-width="0.75"/>
<circle cx="503.3" cy="308.4" r="1.8" fill="none" stroke="#6c6c6c" stroke-width="0.75"/>
<circle cx="507.5" cy="278.1" r="1.8" fill="none" stroke="#6c6c6c" stroke-width="0.75"/>
<circle cx="478.0" cy="274.5" r="1.8" fill="none" stroke="#6c6c6c" stroke-width="0.75"/>
<circle cx="493.3" cy="323.6" r="1.8" fill="none" stroke="#6c6c6c" stroke-width="0.75"/>
<circle cx="460.2" cy="323.1" r="1.8" fill="none" stroke="#6c6c6c" stroke-width="0.75"/>
<circle cx="497.8" cy="291.8" r="1.8" fill="none" stroke="#6c6c6c" stroke-width="0.75"/>
<circle cx="438.6" cy="320.3" r="1.8" fill="none" stroke="#6c6c6c" stroke-width="0.75"/>
<circle cx="476.1" cy="284.1" r="1.8" fill="none" stroke="#6c6c6c" stroke-width="0.75"/>
<circle cx="486.0" cy="302.4" r="1.8" fill="none" stroke="#6c6c6c" stroke-width="0.75"/>
<circle cx="508.0" cy="276.6" r="1.8" fill="none" stroke="#6c6c6c" stroke-width="0.75"/>
<circle cx="454.8" cy="318.8" r="1.8" fill="none" stroke="#6c6c6c" stroke-width="0.75"/>
<circle cx="458.9" cy="288.7" r="1.8" fill="none" stroke="#6c6c6c" stroke-width="0.75"/>
<circle cx="430.3" cy="310.3" r="1.8" fill="none" stroke="#6c6c6c" stroke-width="0.75"/>
<circle cx="441.5" cy="294.2" r="1.8" fill="none" stroke="#6c6c6c" stroke-width="0.75"/>
<circle cx="458.5" cy="287.3" r="1.8" fill="none" stroke="#6c6c6c" stroke-width="0.75"/>
<circle cx="410.1" cy="285.0" r="1.8" fill="none" stroke="#6c6c6c" stroke-width="0.75"/>
<circle cx="415.9" cy="306.7" r="1.8" fill="none" stroke="#6c6c6c" stroke-width="0.75"/>
<circle cx="444.1" cy="281.0" r="1.8" fill="none" stroke="#6c6c6c" stroke-width="0.75"/>
<circle cx="439.9" cy="307.0" r="1.8" fill="none" stroke="#6c6c6c" stroke-width="0.75"/>
<circle cx="441.0" cy="315.9" r="1.8" fill="none" stroke="#6c6c6c" stroke-width="0.75"/>
<circle cx="439.2" cy="310.7" r="1.8" fill="none" stroke="#6c6c6c" stroke-width="0.75"/>
<circle cx="459.4" cy="321.0" r="1.8" fill="none" stroke="#6c6c6c" stroke-width="0.75"/>
<circle cx="431.3" cy="307.8" r="1.8" fill="none" stroke="#6c6c6c" stroke-width="0.75"/>
<circle cx="415.6" cy="272.5" r="1.8" fill="none" stroke="#6c6c6c" stroke-width="0.75"/>
<circle cx="414.5" cy="311.2" r="1.8" fill="none" stroke="#6c6c6c" stroke-width="0.75"/>
<circle cx="424.0" cy="291.8" r="1.8" fill="none" stroke="#6c6c6c" stroke-width="0.75"/>
<circle cx="437.5" cy="291.5" r="1.8" fill="none" stroke="#6c6c6c" stroke-width="0.75"/>
<circle cx="432.3" cy="296.2" r="1.8" fill="none" stroke="#6c6c6c" stroke-width="0.75"/>
<circle cx="463.3" cy="292.8" r="1.8" fill="none" stroke="#6c6c6c" stroke-width="0.75"/>
<circle cx="446.9" cy="310.0" r="1.8" fill="none" stroke="#6c6c6c" stroke-width="0.75"/>
<circle cx="437.4" cy="269.3" r="1.8" fill="none" stroke="#6c6c6c" stroke-width="0.75"/>
<circle cx="432.8" cy="311.3" r="1.8" fill="none" stroke="#6c6c6c" stroke-width="0.75"/>
<circle cx="418.6" cy="281.2" r="1.8" fill="none" stroke="#6c6c6c" stroke-width="0.75"/>
<circle cx="453.1" cy="306.3" r="1.8" fill="none" stroke="#6c6c6c" stroke-width="0.75"/>
<circle cx="440.1" cy="306.5" r="1.8" fill="none" stroke="#6c6c6c" stroke-width="0.75"/>
<circle cx="442.2" cy="270.8" r="1.8" fill="none" stroke="#6c6c6c" stroke-width="0.75"/>
<circle cx="419.7" cy="280.5" r="1.8" fill="none" stroke="#6c6c6c" stroke-width="0.75"/>
<circle cx="452.0" cy="281.8" r="1.8" fill="none" stroke="#6c6c6c" stroke-width="0.75"/>
<circle cx="428.3" cy="278.1" r="1.8" fill="none" stroke="#6c6c6c" stroke-width="0.75"/>
<circle cx="420.1" cy="289.9" r="1.8" fill="none" stroke="#6c6c6c" stroke-width="0.75"/>
<circle cx="424.7" cy="298.6" r="1.8" fill="none" stroke="#6c6c6c" stroke-width="0.75"/>
<circle cx="409.3" cy="297.9" r="1.8" fill="none" stroke="#6c6c6c" stroke-width="0.75"/>
<circle cx="431.7" cy="257.0" r="1.8" fill="none" stroke="#6c6c6c" stroke-width="0.75"/>
<circle cx="449.4" cy="287.0" r="1.8" fill="none" stroke="#6c6c6c" stroke-width="0.75"/>
<circle cx="411.0" cy="276.2" r="1.8" fill="none" stroke="#6c6c6c" stroke-width="0.75"/>
<circle cx="443.8" cy="283.7" r="1.8" fill="none" stroke="#6c6c6c" stroke-width="0.75"/>
<circle cx="450.1" cy="305.5" r="1.8" fill="none" stroke="#6c6c6c" stroke-width="0.75"/>
<circle cx="448.7" cy="297.9" r="1.8" fill="none" stroke="#6c6c6c" stroke-width="0.75"/>
<circle cx="457.3" cy="303.9" r="1.8" fill="none" stroke="#6c6c6c" stroke-width="0.75"/>
<circle cx="445.9" cy="254.5" r="1.8" fill="none" stroke="#6c6c6c" stroke-width="0.75"/>
<circle cx="504.2" cy="310.5" r="1.8" fill="none" stroke="#6c6c6c" stroke-width="0.75"/>
<circle cx="494.6" cy="296.2" r="1.8" fill="none" stroke="#6c6c6c" stroke-width="0.75"/>
<circle cx="512.5" cy="285.9" r="1.8" fill="none" stroke="#6c6c6c" stroke-width="0.75"/>
<circle cx="500.8" cy="319.4" r="1.8" fill="none" stroke="#6c6c6c" stroke-width="0.75"/>
<circle cx="489.6" cy="305.5" r="1.8" fill="none" stroke="#6c6c6c" stroke-width="0.75"/>
<circle cx="512.1" cy="299.0" r="1.8" fill="none" stroke="#6c6c6c" stroke-width="0.75"/>
<circle cx="501.5" cy="307.2" r="1.8" fill="none" stroke="#6c6c6c" stroke-width="0.75"/>
<circle cx="489.8" cy="299.3" r="1.8" fill="none" stroke="#6c6c6c" stroke-width="0.75"/>
<circle cx="499.3" cy="306.6" r="1.8" fill="none" stroke="#6c6c6c" stroke-width="0.75"/>
<circle cx="496.7" cy="298.4" r="1.8" fill="none" stroke="#6c6c6c" stroke-width="0.75"/>
<circle cx="488.9" cy="297.1" r="1.8" fill="none" stroke="#6c6c6c" stroke-width="0.75"/>
<circle cx="504.1" cy="300.8" r="1.8" fill="none" stroke="#6c6c6c" stroke-width="0.75"/>
<circle cx="490.2" cy="293.3" r="1.8" fill="none" stroke="#6c6c6c" stroke-width="0.75"/>
<circle cx="518.3" cy="309.1" r="1.8" fill="none" stroke="#6c6c6c" stroke-width="0.75"/>
<circle cx="502.1" cy="279.3" r="1.8" fill="none" stroke="#6c6c6c" stroke-width="0.75"/>
<circle cx="502.0" cy="303.8" r="1.8" fill="none" stroke="#6c6c6c" stroke-width="0.75"/>
<circle cx="510.5" cy="303.4" r="1.8" fill="none" stroke="#6c6c6c" stroke-width="0.75"/>
<circle cx="496.5" cy="304.2" r="1.8" fill="none" stroke="#6c6c6c" stroke-width="0.75"/>
<circle cx="481.4" cy="308.3" r="1.8" fill="none" stroke="#6c6c6c" stroke-width="0.75"/>
<circle cx="499.6" cy="294.4" r="1.8" fill="none" stroke="#6c6c6c" stroke-width="0.75"/>
<circle cx="507.6" cy="314.5" r="1.8" fill="none" stroke="#6c6c6c" stroke-width="0.75"/>
<circle cx="485.8" cy="294.7" r="1.8" fill="none" stroke="#6c6c6c" stroke-width="0.75"/>
<circle cx="499.3" cy="301.5" r="1.8" fill="none" stroke="#6c6c6c" stroke-width="0.75"/>
<circle cx="493.8" cy="292.2" r="1.8" fill="none" stroke="#6c6c6c" stroke-width="0.75"/>
<circle cx="514.0" cy="308.3" r="1.8" fill="none" stroke="#6c6c6c" stroke-width="0.75"/>
<circle cx="487.4" cy="289.2" r="1.8" fill="none" stroke="#6c6c6c" stroke-width="0.75"/>
<circle cx="510.6" cy="307.9" r="1.8" fill="none" stroke="#6c6c6c" stroke-width="0.75"/>
<circle cx="511.6" cy="306.5" r="1.8" fill="none" stroke="#6c6c6c" stroke-width="0.75"/>
<circle cx="490.0" cy="302.1" r="1.8" fill="none" stroke="#6c6c6c" stroke-width="0.75"/>
<circle cx="479.7" cy="294.0" r="1.8" fill="none" stroke="#6c6c6c" stroke-width="0.75"/>
<circle cx="523.7" cy="277.2" r="1.8" fill="none" stroke="#6c6c6c" stroke-width="0.75"/>
<circle cx="520.4" cy="272.0" r="1.8" fill="none" stroke="#6c6c6c" stroke-width="0.75"/>
<circle cx="526.3" cy="276.0" r="1.8" fill="none" stroke="#6c6c6c" stroke-width="0.75"/>
<circle cx="527.2" cy="274.7" r="1.8" fill="none" stroke="#6c6c6c" stroke-width="0.75"/>
<circle cx="522.4" cy="279.3" r="1.8" fill="none" stroke="#6c6c6c" stroke-width="0.75"/>
<circle cx="524.2" cy="266.4" r="1.8" fill="none" stroke="#6c6c6c" stroke-width="0.75"/>
<circle cx="520.9" cy="273.0" r="1.8" fill="none" stroke="#6c6c6c" stroke-width="0.75"/>
<circle cx="523.5" cy="274.3" r="1.8" fill="none" stroke="#6c6c6c" stroke-width="0.75"/>
<circle cx="524.0" cy="274.4" r="1.8" fill="none" stroke="#6c6c6c" stroke-width="0.75"/>
<circle cx="523.3" cy="262.9" r="1.8" fill="none" stroke="#6c6c6c" stroke-width="0.75"/>
<circle cx="526.1" cy="281.4" r="1.8" fill="none" stroke="#6c6c6c" stroke-width="0.75"/>
<circle cx="526.2" cy="271.5" r="1.8" fill="none" stroke="#6c6c6c" stroke-width="0.75"/>
<circle cx="526.2" cy="265.3" r="1.8" fill="none" stroke="#6c6c6c" stroke-width="0.75"/>
<circle cx="514.5" cy="273.5" r="1.8" fill="none" stroke="#6c6c6c" stroke-width="0.75"/>
<circle cx="519.3" cy="278.9" r="1.8" fill="none" stroke="#6c6c6c" stroke-width="0.75"/>
<circle cx="518.6" cy="252.0" r="1.8" fill="none" stroke="#6c6c6c" stroke-width="0.75"/>
<circle cx="518.8" cy="285.6" r="1.8" fill="none" stroke="#6c6c6c" stroke-width="0.75"/>
<circle cx="522.1" cy="262.0" r="1.8" fill="none" stroke="#6c6c6c" stroke-width="0.75"/>
<circle cx="520.2" cy="277.2" r="1.8" fill="none" stroke="#6c6c6c" stroke-width="0.75"/>
<circle cx="526.5" cy="274.4" r="1.8" fill="none" stroke="#6c6c6c" stroke-width="0.75"/>
<circle cx="531.4" cy="278.7" r="1.8" fill="none" stroke="#6c6c6c" stroke-width="0.75"/>
<circle cx="523.9" cy="277.8" r="1.8" fill="none" stroke="#6c6c6c" stroke-width="0.75"/>
<circle cx="555.2" cy="251.8" r="1.8" fill="none" stroke="#6c6c6c" stroke-width="0.75"/>
<circle cx="546.3" cy="239.5" r="1.8" fill="none" stroke="#6c6c6c" stroke-width="0.75"/>
<circle cx="529.9" cy="250.4" r="1.8" fill="none" stroke="#6c6c6c" stroke-width="0.75"/>
<circle cx="598.7" cy="373.5" r="1.8" fill="none" stroke="#6c6c6c" stroke-width="0.75"/>
<circle cx="608.6" cy="370.0" r="1.8" fill="none" stroke="#6c6c6c" stroke-width="0.75"/>
<circle cx="599.7" cy="406.0" r="1.8" fill="none" stroke="#6c6c6c" stroke-width="0.75"/>
<circle cx="615.6" cy="345.3" r="1.8" fill="none" stroke="#6c6c6c" stroke-width="0.75"/>
<circle cx="603.0" cy="407.1" r="1.8" fill="none" stroke="#6c6c6c" stroke-width="0.75"/>
<circle cx="598.2" cy="369.2" r="1.8" fill="none" stroke="#6c6c6c" stroke-width="0.75"/>
<circle cx="612.8" cy="350.1" r="1.8" fill="none" stroke="#6c6c6c" stroke-width="0.75"/>
<circle cx="589.2" cy="354.1" r="1.8" fill="none" stroke="#6c6c6c" stroke-width="0.75"/>
<circle cx="606.0" cy="374.9" r="1.8" fill="none" stroke="#6c6c6c" stroke-width="0.75"/>
<circle cx="610.6" cy="350.5" r="1.8" fill="none" stroke="#6c6c6c" stroke-width="0.75"/>
<circle cx="611.4" cy="361.9" r="1.8" fill="none" stroke="#6c6c6c" stroke-width="0.75"/>
<circle cx="604.3" cy="351.2" r="1.8" fill="none" stroke="#6c6c6c" stroke-width="0.75"/>
<circle cx="599.3" cy="365.1" r="1.8" fill="none" stroke="#6c6c6c" stroke-width="0.75"/>
<circle cx="590.4" cy="336.2" r="1.8" fill="none" stroke="#6c6c6c" stroke-width="0.75"/>
<circle cx="602.1" cy="317.8" r="1.8" fill="none" stroke="#6c6c6c" stroke-width="0.75"/>
<circle cx="597.2" cy="305.8" r="1.8" fill="none" stroke="#6c6c6c" stroke-width="0.75"/>
<circle cx="594.5" cy="362.5" r="1.8" fill="none" stroke="#6c6c6c" stroke-width="0.75"/>
<circle cx="608.2" cy="348.8" r="1.8" fill="none" stroke="#6c6c6c" stroke-width="0.75"/>
<circle cx="599.4" cy="318.8" r="1.8" fill="none" stroke="#6c6c6c" stroke-width="0.75"/>
<circle cx="622.1" cy="361.4" r="1.8" fill="none" stroke="#6c6c6c" stroke-width="0.75"/>
<circle cx="614.0" cy="330.6" r="1.8" fill="none" stroke="#6c6c6c" stroke-width="0.75"/>
<circle cx="600.0" cy="310.0" r="1.8" fill="none" stroke="#6c6c6c" stroke-width="0.75"/>
<circle cx="610.6" cy="370.6" r="1.8" fill="none" stroke="#6c6c6c" stroke-width="0.75"/>
<circle cx="581.1" cy="348.9" r="1.8" fill="none" stroke="#6c6c6c" stroke-width="0.75"/>
<circle cx="608.9" cy="311.2" r="1.8" fill="none" stroke="#6c6c6c" stroke-width="0.75"/>
<circle cx="581.9" cy="326.6" r="1.8" fill="none" stroke="#6c6c6c" stroke-width="0.75"/>
<circle cx="595.1" cy="319.1" r="1.8" fill="none" stroke="#6c6c6c" stroke-width="0.75"/>
<circle cx="602.3" cy="355.5" r="1.8" fill="none" stroke="#6c6c6c" stroke-width="0.75"/>
<circle cx="609.0" cy="365.4" r="1.8" fill="none" stroke="#6c6c6c" stroke-width="0.75"/>
<circle cx="618.5" cy="375.6" r="1.8" fill="none" stroke="#6c6c6c" stroke-width="0.75"/>
<circle cx="587.6" cy="338.9" r="1.8" fill="none" stroke="#6c6c6c" stroke-width="0.75"/>
<circle cx="590.3" cy="326.3" r="1.8" fill="none" stroke="#6c6c6c" stroke-width="0.75"/>
<circle cx="601.1" cy="350.1" r="1.8" fill="none" stroke="#6c6c6c" stroke-width="0.75"/>
<circle cx="607.4" cy="315.1" r="1.8" fill="none" stroke="#6c6c6c" stroke-width="0.75"/>
<circle cx="588.4" cy="349.5" r="1.8" fill="none" stroke="#6c6c6c" stroke-width="0.75"/>
<circle cx="599.8" cy="343.2" r="1.8" fill="none" stroke="#6c6c6c" stroke-width="0.75"/>
<circle cx="601.3" cy="333.3" r="1.8" fill="none" stroke="#6c6c6c" stroke-width="0.75"/>
<circle cx="609.7" cy="357.8" r="1.8" fill="none" stroke="#6c6c6c" stroke-width="0.75"/>
<circle cx="601.0" cy="335.2" r="1.8" fill="none" stroke="#6c6c6c" stroke-width="0.75"/>
<circle cx="600.1" cy="290.1" r="1.8" fill="none" stroke="#6c6c6c" stroke-width="0.75"/>
<circle cx="591.2" cy="350.8" r="1.8" fill="none" stroke="#6c6c6c" stroke-width="0.75"/>
<circle cx="585.5" cy="354.4" r="1.8" fill="none" stroke="#6c6c6c" stroke-width="0.75"/>
<circle cx="603.6" cy="319.7" r="1.8" fill="none" stroke="#6c6c6c" stroke-width="0.75"/>
<circle cx="599.2" cy="343.1" r="1.8" fill="none" stroke="#6c6c6c" stroke-width="0.75"/>
<circle cx="607.1" cy="363.5" r="1.8" fill="none" stroke="#6c6c6c" stroke-width="0.75"/>
<circle cx="601.6" cy="331.3" r="1.8" fill="none" stroke="#6c6c6c" stroke-width="0.75"/>
<circle cx="600.4" cy="348.6" r="1.8" fill="none" stroke="#6c6c6c" stroke-width="0.75"/>
<circle cx="610.1" cy="356.5" r="1.8" fill="none" stroke="#6c6c6c" stroke-width="0.75"/>
<circle cx="594.1" cy="320.2" r="1.8" fill="none" stroke="#6c6c6c" stroke-width="0.75"/>
<circle cx="597.9" cy="333.7" r="1.8" fill="none" stroke="#6c6c6c" stroke-width="0.75"/>
<circle cx="589.8" cy="347.4" r="1.8" fill="none" stroke="#6c6c6c" stroke-width="0.75"/>
<circle cx="596.6" cy="352.3" r="1.8" fill="none" stroke="#6c6c6c" stroke-width="0.75"/>
<circle cx="607.8" cy="340.9" r="1.8" fill="none" stroke="#6c6c6c" stroke-width="0.75"/>
<circle cx="627.6" cy="342.9" r="1.8" fill="none" stroke="#6c6c6c" stroke-width="0.75"/>
<circle cx="614.1" cy="352.7" r="1.8" fill="none" stroke="#6c6c6c" stroke-width="0.75"/>
<circle cx="614.3" cy="297.7" r="1.8" fill="none" stroke="#6c6c6c" stroke-width="0.75"/>
<circle cx="593.7" cy="355.4" r="1.8" fill="none" stroke="#6c6c6c" stroke-width="0.75"/>
<circle cx="608.6" cy="401.4" r="1.8" fill="none" stroke="#6c6c6c" stroke-width="0.75"/>
<circle cx="605.5" cy="378.2" r="1.8" fill="none" stroke="#6c6c6c" stroke-width="0.75"/>
<circle cx="610.4" cy="370.8" r="1.8" fill="none" stroke="#6c6c6c" stroke-width="0.75"/>
<circle cx="607.6" cy="346.6" r="1.8" fill="none" stroke="#6c6c6c" stroke-width="0.75"/>
<circle cx="607.6" cy="326.3" r="1.8" fill="none" stroke="#6c6c6c" stroke-width="0.75"/>
<circle cx="615.0" cy="327.6" r="1.8" fill="none" stroke="#6c6c6c" stroke-width="0.75"/>
<circle cx="604.7" cy="396.7" r="1.8" fill="none" stroke="#6c6c6c" stroke-width="0.75"/>
<circle cx="599.5" cy="350.4" r="1.8" fill="none" stroke="#6c6c6c" stroke-width="0.75"/>
<circle cx="614.8" cy="350.6" r="1.8" fill="none" stroke="#6c6c6c" stroke-width="0.75"/>
<circle cx="593.1" cy="355.7" r="1.8" fill="none" stroke="#6c6c6c" stroke-width="0.75"/>
<circle cx="608.4" cy="365.6" r="1.8" fill="none" stroke="#6c6c6c" stroke-width="0.75"/>
<circle cx="593.5" cy="388.6" r="1.8" fill="none" stroke="#6c6c6c" stroke-width="0.75"/>
<circle cx="620.3" cy="350.4" r="1.8" fill="none" stroke="#6c6c6c" stroke-width="0.75"/>
<circle cx="605.0" cy="340.6" r="1.8" fill="none" stroke="#6c6c6c" stroke-width="0.75"/>
<circle cx="617.6" cy="334.5" r="1.8" fill="none" stroke="#6c6c6c" stroke-width="0.75"/>
<circle cx="609.4" cy="339.4" r="1.8" fill="none" stroke="#6c6c6c" stroke-width="0.75"/>
<circle cx="594.4" cy="365.8" r="1.8" fill="none" stroke="#6c6c6c" stroke-width="0.75"/>
<circle cx="616.7" cy="349.8" r="1.8" fill="none" stroke="#6c6c6c" stroke-width="0.75"/>
<circle cx="594.5" cy="367.9" r="1.8" fill="none" stroke="#6c6c6c" stroke-width="0.75"/>
<circle cx="601.5" cy="356.8" r="1.8" fill="none" stroke="#6c6c6c" stroke-width="0.75"/>
<circle cx="618.8" cy="374.9" r="1.8" fill="none" stroke="#6c6c6c" stroke-width="0.75"/>
<circle cx="596.3" cy="400.2" r="1.8" fill="none" stroke="#6c6c6c" stroke-width="0.75"/>
<circle cx="602.0" cy="367.3" r="1.8" fill="none" stroke="#6c6c6c" stroke-width="0.75"/>
<circle cx="594.9" cy="349.0" r="1.8" fill="none" stroke="#6c6c6c" stroke-width="0.75"/>
<circle cx="582.8" cy="389.3" r="1.8" fill="none" stroke="#6c6c6c" stroke-width="0.75"/>
<circle cx="617.0" cy="323.3" r="1.8" fill="none" stroke="#6c6c6c" stroke-width="0.75"/>
<circle cx="585.4" cy="314.3" r="1.8" fill="none" stroke="#6c6c6c" stroke-width="0.75"/>
<circle cx="614.9" cy="339.9" r="1.8" fill="none" stroke="#6c6c6c" stroke-width="0.75"/>
<circle cx="601.3" cy="343.1" r="1.8" fill="none" stroke="#6c6c6c" stroke-width="0.75"/>
<circle cx="600.7" cy="326.1" r="1.8" fill="none" stroke="#6c6c6c" stroke-width="0.75"/>
<circle cx="602.3" cy="318.4" r="1.8" fill="none" stroke="#6c6c6c" stroke-width="0.75"/>
<circle cx="601.2" cy="356.8" r="1.8" fill="none" stroke="#6c6c6c" stroke-width="0.75"/>
<circle cx="607.1" cy="344.9" r="1.8" fill="none" stroke="#6c6c6c" stroke-width="0.75"/>
<circle cx="592.1" cy="353.5" r="1.8" fill="none" stroke="#6c6c6c" stroke-width="0.75"/>
<circle cx="596.7" cy="384.4" r="1.8" fill="none" stroke="#6c6c6c" stroke-width="0.75"/>
<circle cx="610.4" cy="347.5" r="1.8" fill="none" stroke="#6c6c6c" stroke-width="0.75"/>
<circle cx="596.8" cy="334.5" r="1.8" fill="none" stroke="#6c6c6c" stroke-width="0.75"/>
<circle cx="591.7" cy="342.2" r="1.8" fill="none" stroke="#6c6c6c" stroke-width="0.75"/>
<circle cx="605.2" cy="361.3" r="1.8" fill="none" stroke="#6c6c6c" stroke-width="0.75"/>
<circle cx="608.3" cy="396.2" r="1.8" fill="none" stroke="#6c6c6c" stroke-width="0.75"/>
<circle cx="594.2" cy="350.3" r="1.8" fill="none" stroke="#6c6c6c" stroke-width="0.75"/>
<circle cx="632.7" cy="308.9" r="1.8" fill="none" stroke="#6c6c6c" stroke-width="0.75"/>
<circle cx="596.3" cy="353.7" r="1.8" fill="none" stroke="#6c6c6c" stroke-width="0.75"/>
<circle cx="603.7" cy="359.0" r="1.8" fill="none" stroke="#6c6c6c" stroke-width="0.75"/>
<circle cx="599.4" cy="358.1" r="1.8" fill="none" stroke="#6c6c6c" stroke-width="0.75"/>
<circle cx="602.6" cy="367.0" r="1.8" fill="none" stroke="#6c6c6c" stroke-width="0.75"/>
<circle cx="581.2" cy="330.5" r="1.8" fill="none" stroke="#6c6c6c" stroke-width="0.75"/>
<circle cx="602.0" cy="327.3" r="1.8" fill="none" stroke="#6c6c6c" stroke-width="0.75"/>
<circle cx="590.5" cy="363.8" r="1.8" fill="none" stroke="#6c6c6c" stroke-width="0.75"/>
<circle cx="594.9" cy="364.0" r="1.8" fill="none" stroke="#6c6c6c" stroke-width="0.75"/>
<circle cx="610.2" cy="356.7" r="1.8" fill="none" stroke="#6c6c6c" stroke-width="0.75"/>
<circle cx="607.6" cy="347.7" r="1.8" fill="none" stroke="#6c6c6c" stroke-width="0.75"/>
<circle cx="586.5" cy="349.3" r="1.8" fill="none" stroke="#6c6c6c" stroke-width="0.75"/>
<circle cx="607.0" cy="338.4" r="1.8" fill="none" stroke="#6c6c6c" stroke-width="0.75"/>
<circle cx="600.9" cy="366.5" r="1.8" fill="none" stroke="#6c6c6c" stroke-width="0.75"/>
<circle cx="592.3" cy="364.1" r="1.8" fill="none" stroke="#6c6c6c" stroke-width="0.75"/>
<circle cx="622.5" cy="337.8" r="1.8" fill="none" stroke="#6c6c6c" stroke-width="0.75"/>
<circle cx="603.6" cy="346.7" r="1.8" fill="none" stroke="#6c6c6c" stroke-width="0.75"/>
<circle cx="618.9" cy="357.0" r="1.8" fill="none" stroke="#6c6c6c" stroke-width="0.75"/>
<circle cx="611.9" cy="334.8" r="1.8" fill="none" stroke="#6c6c6c" stroke-width="0.75"/>
<circle cx="601.8" cy="349.8" r="1.8" fill="none" stroke="#6c6c6c" stroke-width="0.75"/>
<circle cx="582.5" cy="381.7" r="1.8" fill="none" stroke="#6c6c6c" stroke-width="0.75"/>
<circle cx="611.9" cy="311.5" r="1.8" fill="none" stroke="#6c6c6c" stroke-width="0.75"/>
<circle cx="594.7" cy="383.4" r="1.8" fill="none" stroke="#6c6c6c" stroke-width="0.75"/>
<circle cx="592.0" cy="389.4" r="1.8" fill="none" stroke="#6c6c6c" stroke-width="0.75"/>
<circle cx="574.5" cy="382.5" r="1.8" fill="none" stroke="#6c6c6c" stroke-width="0.75"/>
<circle cx="601.4" cy="378.1" r="1.8" fill="none" stroke="#6c6c6c" stroke-width="0.75"/>
<circle cx="578.8" cy="368.7" r="1.8" fill="none" stroke="#6c6c6c" stroke-width="0.75"/>
<circle cx="577.0" cy="389.0" r="1.8" fill="none" stroke="#6c6c6c" stroke-width="0.75"/>
<circle cx="603.2" cy="390.2" r="1.8" fill="none" stroke="#6c6c6c" stroke-width="0.75"/>
<circle cx="590.2" cy="411.8" r="1.8" fill="none" stroke="#6c6c6c" stroke-width="0.75"/>
<circle cx="583.3" cy="376.9" r="1.8" fill="none" stroke="#6c6c6c" stroke-width="0.75"/>
<circle cx="592.8" cy="391.6" r="1.8" fill="none" stroke="#6c6c6c" stroke-width="0.75"/>
<circle cx="578.9" cy="371.0" r="1.8" fill="none" stroke="#6c6c6c" stroke-width="0.75"/>
<circle cx="590.6" cy="388.0" r="1.8" fill="none" stroke="#6c6c6c" stroke-width="0.75"/>
<circle cx="576.2" cy="382.6" r="1.8" fill="none" stroke="#6c6c6c" stroke-width="0.75"/>
<circle cx="583.1" cy="390.5" r="1.8" fill="none" stroke="#6c6c6c" stroke-width="0.75"/>
<circle cx="586.9" cy="384.0" r="1.8" fill="none" stroke="#6c6c6c" stroke-width="0.75"/>
<circle cx="584.8" cy="397.6" r="1.8" fill="none" stroke="#6c6c6c" stroke-width="0.75"/>
<circle cx="600.5" cy="380.6" r="1.8" fill="none" stroke="#6c6c6c" stroke-width="0.75"/>
<circle cx="595.6" cy="375.9" r="1.8" fill="none" stroke="#6c6c6c" stroke-width="0.75"/>
<circle cx="588.6" cy="394.0" r="1.8" fill="none" stroke="#6c6c6c" stroke-width="0.75"/>
<circle cx="601.6" cy="380.4" r="1.8" fill="none" stroke="#6c6c6c" stroke-width="0.75"/>
<circle cx="587.3" cy="387.4" r="1.8" fill="none" stroke="#6c6c6c" stroke-width="0.75"/>
<circle cx="574.5" cy="385.2" r="1.8" fill="none" stroke="#6c6c6c" stroke-width="0.75"/>
<circle cx="581.9" cy="389.5" r="1.8" fill="none" stroke="#6c6c6c" stroke-width="0.75"/>
<circle cx="577.8" cy="361.3" r="1.8" fill="none" stroke="#6c6c6c" stroke-width="0.75"/>
<circle cx="588.3" cy="388.1" r="1.8" fill="none" stroke="#6c6c6c" stroke-width="0.75"/>
<circle cx="583.1" cy="395.7" r="1.8" fill="none" stroke="#6c6c6c" stroke-width="0.75"/>
<circle cx="585.5" cy="377.7" r="1.8" fill="none" stroke="#6c6c6c" stroke-width="0.75"/>
<circle cx="592.3" cy="366.2" r="1.8" fill="none" stroke="#6c6c6c" stroke-width="0.75"/>
<circle cx="581.9" cy="384.8" r="1.8" fill="none" stroke="#6c6c6c" stroke-width="0.75"/>
<circle cx="595.6" cy="383.0" r="1.8" fill="none" stroke="#6c6c6c" stroke-width="0.75"/>
<circle cx="590.8" cy="377.1" r="1.8" fill="none" stroke="#6c6c6c" stroke-width="0.75"/>
<circle cx="590.7" cy="405.0" r="1.8" fill="none" stroke="#6c6c6c" stroke-width="0.75"/>
<circle cx="581.8" cy="413.4" r="1.8" fill="none" stroke="#6c6c6c" stroke-width="0.75"/>
<circle cx="582.2" cy="385.2" r="1.8" fill="none" stroke="#6c6c6c" stroke-width="0.75"/>
<circle cx="589.6" cy="397.3" r="1.8" fill="none" stroke="#6c6c6c" stroke-width="0.75"/>
<circle cx="576.9" cy="359.8" r="1.8" fill="none" stroke="#6c6c6c" stroke-width="0.75"/>
<circle cx="593.5" cy="394.5" r="1.8" fill="none" stroke="#6c6c6c" stroke-width="0.75"/>
<circle cx="593.6" cy="416.6" r="1.8" fill="none" stroke="#6c6c6c" stroke-width="0.75"/>
<circle cx="589.8" cy="388.0" r="1.8" fill="none" stroke="#6c6c6c" stroke-width="0.75"/>
<circle cx="596.4" cy="389.4" r="1.8" fill="none" stroke="#6c6c6c" stroke-width="0.75"/>
<circle cx="600.0" cy="394.3" r="1.8" fill="none" stroke="#6c6c6c" stroke-width="0.75"/>
<circle cx="575.5" cy="378.9" r="1.8" fill="none" stroke="#6c6c6c" stroke-width="0.75"/>
<circle cx="589.7" cy="400.4" r="1.8" fill="none" stroke="#6c6c6c" stroke-width="0.75"/>
<circle cx="591.1" cy="418.1" r="1.8" fill="none" stroke="#6c6c6c" stroke-width="0.75"/>
<circle cx="579.9" cy="401.2" r="1.8" fill="none" stroke="#6c6c6c" stroke-width="0.75"/>
<circle cx="574.0" cy="397.1" r="1.8" fill="none" stroke="#6c6c6c" stroke-width="0.75"/>
<circle cx="572.4" cy="407.5" r="1.8" fill="none" stroke="#6c6c6c" stroke-width="0.75"/>
<circle cx="580.4" cy="403.5" r="1.8" fill="none" stroke="#6c6c6c" stroke-width="0.75"/>
<circle cx="577.9" cy="409.4" r="1.8" fill="none" stroke="#6c6c6c" stroke-width="0.75"/>
<circle cx="585.9" cy="402.0" r="1.8" fill="none" stroke="#6c6c6c" stroke-width="0.75"/>
<circle cx="588.0" cy="401.9" r="1.8" fill="none" stroke="#6c6c6c" stroke-width="0.75"/>
<circle cx="566.2" cy="413.2" r="1.8" fill="none" stroke="#6c6c6c" stroke-width="0.75"/>
<circle cx="585.6" cy="396.3" r="1.8" fill="none" stroke="#6c6c6c" stroke-width="0.75"/>
<circle cx="592.9" cy="405.4" r="1.8" fill="none" stroke="#6c6c6c" stroke-width="0.75"/>
<circle cx="561.2" cy="414.3" r="1.8" fill="none" stroke="#6c6c6c" stroke-width="0.75"/>
<circle cx="584.0" cy="409.2" r="1.8" fill="none" stroke="#6c6c6c" stroke-width="0.75"/>
<circle cx="582.4" cy="402.0" r="1.8" fill="none" stroke="#6c6c6c" stroke-width="0.75"/>
<circle cx="561.4" cy="409.8" r="1.8" fill="none" stroke="#6c6c6c" stroke-width="0.75"/>
<circle cx="580.4" cy="401.0" r="1.8" fill="none" stroke="#6c6c6c" stroke-width="0.75"/>
<circle cx="584.2" cy="403.5" r="1.8" fill="none" stroke="#6c6c6c" stroke-width="0.75"/>
<circle cx="588.1" cy="400.4" r="1.8" fill="none" stroke="#6c6c6c" stroke-width="0.75"/>
<circle cx="579.6" cy="388.0" r="1.8" fill="none" stroke="#6c6c6c" stroke-width="0.75"/>
<circle cx="574.9" cy="407.7" r="1.8" fill="none" stroke="#6c6c6c" stroke-width="0.75"/>
<circle cx="596.0" cy="400.5" r="1.8" fill="none" stroke="#6c6c6c" stroke-width="0.75"/>
<circle cx="578.5" cy="414.1" r="1.8" fill="none" stroke="#6c6c6c" stroke-width="0.75"/>
<circle cx="557.8" cy="430.1" r="1.8" fill="none" stroke="#6c6c6c" stroke-width="0.75"/>
<circle cx="601.9" cy="425.3" r="1.8" fill="none" stroke="#6c6c6c" stroke-width="0.75"/>
<circle cx="592.0" cy="420.0" r="1.8" fill="none" stroke="#6c6c6c" stroke-width="0.75"/>
<circle cx="569.6" cy="424.5" r="1.8" fill="none" stroke="#6c6c6c" stroke-width="0.75"/>
<circle cx="567.5" cy="432.9" r="1.8" fill="none" stroke="#6c6c6c" stroke-width="0.75"/>
<circle cx="617.6" cy="420.3" r="1.8" fill="none" stroke="#6c6c6c" stroke-width="0.75"/>
<circle cx="552.3" cy="428.5" r="1.8" fill="none" stroke="#6c6c6c" stroke-width="0.75"/>
<circle cx="541.8" cy="428.5" r="1.8" fill="none" stroke="#6c6c6c" stroke-width="0.75"/>
<circle cx="577.6" cy="423.1" r="1.8" fill="none" stroke="#6c6c6c" stroke-width="0.75"/>
<circle cx="576.7" cy="414.2" r="1.8" fill="none" stroke="#6c6c6c" stroke-width="0.75"/>
<circle cx="581.7" cy="414.2" r="1.8" fill="none" stroke="#6c6c6c" stroke-width="0.75"/>
<circle cx="549.7" cy="421.1" r="1.8" fill="none" stroke="#6c6c6c" stroke-width="0.75"/>
<circle cx="609.2" cy="314.9" r="1.8" fill="none" stroke="#6c6c6c" stroke-width="0.75"/>
<circle cx="612.6" cy="304.8" r="1.8" fill="none" stroke="#6c6c6c" stroke-width="0.75"/>
<circle cx="615.8" cy="320.7" r="1.8" fill="none" stroke="#6c6c6c" stroke-width="0.75"/>
<circle cx="612.0" cy="310.9" r="1.8" fill="none" stroke="#6c6c6c" stroke-width="0.75"/>
<circle cx="620.7" cy="310.1" r="1.8" fill="none" stroke="#6c6c6c" stroke-width="0.75"/>
<circle cx="603.0" cy="327.9" r="1.8" fill="none" stroke="#6c6c6c" stroke-width="0.75"/>
<circle cx="627.5" cy="292.1" r="1.8" fill="none" stroke="#6c6c6c" stroke-width="0.75"/>
<circle cx="611.7" cy="311.3" r="1.8" fill="none" stroke="#6c6c6c" stroke-width="0.75"/>
<circle cx="618.8" cy="313.4" r="1.8" fill="none" stroke="#6c6c6c" stroke-width="0.75"/>
<circle cx="610.1" cy="299.6" r="1.8" fill="none" stroke="#6c6c6c" stroke-width="0.75"/>
<circle cx="612.7" cy="316.3" r="1.8" fill="none" stroke="#6c6c6c" stroke-width="0.75"/>
<circle cx="604.4" cy="299.8" r="1.8" fill="none" stroke="#6c6c6c" stroke-width="0.75"/>
<circle cx="611.8" cy="292.5" r="1.8" fill="none" stroke="#6c6c6c" stroke-width="0.75"/>
<circle cx="610.2" cy="304.5" r="1.8" fill="none" stroke="#6c6c6c" stroke-width="0.75"/>
<circle cx="615.2" cy="302.4" r="1.8" fill="none" stroke="#6c6c6c" stroke-width="0.75"/>
<circle cx="572.9" cy="330.3" r="1.8" fill="none" stroke="#6c6c6c" stroke-width="0.75"/>
<circle cx="579.6" cy="327.0" r="1.8" fill="none" stroke="#6c6c6c" stroke-width="0.75"/>
<circle cx="580.1" cy="344.0" r="1.8" fill="none" stroke="#6c6c6c" stroke-width="0.75"/>
<circle cx="589.5" cy="355.5" r="1.8" fill="none" stroke="#6c6c6c" stroke-width="0.75"/>
<circle cx="573.7" cy="330.0" r="1.8" fill="none" stroke="#6c6c6c" stroke-width="0.75"/>
<circle cx="560.1" cy="357.8" r="1.8" fill="none" stroke="#6c6c6c" stroke-width="0.75"/>
<circle cx="574.2" cy="334.6" r="1.8" fill="none" stroke="#6c6c6c" stroke-width="0.75"/>
<circle cx="584.2" cy="318.7" r="1.8" fill="none" stroke="#6c6c6c" stroke-width="0.75"/>
<circle cx="583.7" cy="334.7" r="1.8" fill="none" stroke="#6c6c6c" stroke-width="0.75"/>
<circle cx="565.4" cy="338.5" r="1.8" fill="none" stroke="#6c6c6c" stroke-width="0.75"/>
<circle cx="589.6" cy="312.6" r="1.8" fill="none" stroke="#6c6c6c" stroke-width="0.75"/>
<circle cx="586.5" cy="337.5" r="1.8" fill="none" stroke="#6c6c6c" stroke-width="0.75"/>
<circle cx="583.8" cy="340.3" r="1.8" fill="none" stroke="#6c6c6c" stroke-width="0.75"/>
<circle cx="590.4" cy="332.3" r="1.8" fill="none" stroke="#6c6c6c" stroke-width="0.75"/>
<circle cx="587.0" cy="330.1" r="1.8" fill="none" stroke="#6c6c6c" stroke-width="0.75"/>
<circle cx="585.8" cy="325.2" r="1.8" fill="none" stroke="#6c6c6c" stroke-width="0.75"/>
<circle cx="579.1" cy="355.8" r="1.8" fill="none" stroke="#6c6c6c" stroke-width="0.75"/>
<circle cx="583.6" cy="333.1" r="1.8" fill="none" stroke="#6c6c6c" stroke-width="0.75"/>
<circle cx="570.8" cy="325.5" r="1.8" fill="none" stroke="#6c6c6c" stroke-width="0.75"/>
<circle cx="581.5" cy="346.3" r="1.8" fill="none" stroke="#6c6c6c" stroke-width="0.75"/>
<circle cx="583.4" cy="341.3" r="1.8" fill="none" stroke="#6c6c6c" stroke-width="0.75"/>
<circle cx="579.7" cy="351.2" r="1.8" fill="none" stroke="#6c6c6c" stroke-width="0.75"/>
<circle cx="576.9" cy="328.4" r="1.8" fill="none" stroke="#6c6c6c" stroke-width="0.75"/>
<circle cx="587.1" cy="335.8" r="1.8" fill="none" stroke="#6c6c6c" stroke-width="0.75"/>
<circle cx="577.8" cy="328.1" r="1.8" fill="none" stroke="#6c6c6c" stroke-width="0.75"/>
<circle cx="647.4" cy="423.7" r="1.8" fill="none" stroke="#6c6c6c" stroke-width="0.75"/>
<circle cx="653.5" cy="412.7" r="1.8" fill="none" stroke="#6c6c6c" stroke-width="0.75"/>
<circle cx="654.3" cy="421.1" r="1.8" fill="none" stroke="#6c6c6c" stroke-width="0.75"/>
<circle cx="640.0" cy="424.6" r="1.8" fill="none" stroke="#6c6c6c" stroke-width="0.75"/>
<circle cx="519.0" cy="405.5" r="1.8" fill="none" stroke="#6c6c6c" stroke-width="0.75"/>
<circle cx="513.9" cy="410.7" r="1.8" fill="none" stroke="#6c6c6c" stroke-width="0.75"/>
<circle cx="545.0" cy="410.7" r="1.8" fill="none" stroke="#6c6c6c" stroke-width="0.75"/>
<circle cx="558.0" cy="418.5" r="1.8" fill="none" stroke="#6c6c6c" stroke-width="0.75"/>
<circle cx="490.5" cy="417.2" r="1.8" fill="none" stroke="#6c6c6c" stroke-width="0.75"/>
<circle cx="508.7" cy="434.0" r="1.8" fill="none" stroke="#6c6c6c" stroke-width="0.75"/>
<circle cx="519.0" cy="431.4" r="1.8" fill="none" stroke="#6c6c6c" stroke-width="0.75"/>
<circle cx="526.8" cy="435.3" r="1.8" fill="none" stroke="#6c6c6c" stroke-width="0.75"/>
<circle cx="532.0" cy="431.4" r="1.8" fill="none" stroke="#6c6c6c" stroke-width="0.75"/>
<circle cx="539.8" cy="434.0" r="1.8" fill="none" stroke="#6c6c6c" stroke-width="0.75"/>
<circle cx="546.3" cy="435.3" r="1.8" fill="none" stroke="#6c6c6c" stroke-width="0.75"/>
<circle cx="529.4" cy="439.2" r="1.8" fill="none" stroke="#6c6c6c" stroke-width="0.75"/>
<circle cx="550.0" cy="441.8" r="1.8" fill="none" stroke="#6c6c6c" stroke-width="0.75"/>
<circle cx="415.3" cy="362.7" r="1.8" fill="none" stroke="#6c6c6c" stroke-width="0.75"/>
<circle cx="424.4" cy="362.7" r="1.8" fill="none" stroke="#6c6c6c" stroke-width="0.75"/>
<circle cx="428.3" cy="367.9" r="1.8" fill="none" stroke="#6c6c6c" stroke-width="0.75"/>
<circle cx="432.2" cy="371.8" r="1.8" fill="none" stroke="#6c6c6c" stroke-width="0.75"/>
<circle cx="446.5" cy="348.5" r="1.8" fill="none" stroke="#6c6c6c" stroke-width="0.75"/>
<path d="M549,284 L553,279 L560,277 L566,275.5 L567.5,281 L561,285 L552,287 Z" fill="#f4e23c" stroke="#333" stroke-width="0.6"/>
<path d="M489.2,375.7 C487.7,377.6 483.2,383.3 480.2,387.4 C477.2,391.5 473.7,396.5 471.1,400.4 C468.5,404.3 466.3,406.8 464.6,410.7 C462.9,414.6 461.6,419.8 460.7,423.7 C459.8,427.6 459.6,430.1 459.4,434.0 C459.2,437.9 459.4,444.8 459.4,447.0" fill="none" stroke="#1a1a1a" stroke-width="1.0" stroke-dasharray="3,1.4,0.8,1.4"/>
<path d="M629.7,386.2 C632.2,385.2 639.7,382.1 644.7,380.0 C649.7,377.9 654.6,375.6 659.6,373.7 C664.6,371.8 669.6,370.4 674.6,368.7 C679.6,367.0 684.9,365.1 689.6,363.7 C694.3,362.2 700.8,360.6 703.0,360.0" fill="none" stroke="#1a1a1a" stroke-width="0.9" stroke-dasharray="2.6,1.8"/>
<path d="M628.5,399.9 C630.8,398.6 637.0,394.9 642.2,392.4 C647.4,389.9 654.2,387.0 659.6,384.9 C665.0,382.8 669.2,381.5 674.6,379.9 C680.0,378.2 687.3,376.3 692.0,375.0 C696.7,373.7 701.2,372.5 703.0,372.0" fill="none" stroke="#1a1a1a" stroke-width="0.9" stroke-dasharray="2.6,1.8"/>
<path d="M662.1,406.1 C665.0,404.7 673.4,400.1 679.6,397.4 C685.8,394.7 696.2,391.2 699.5,390.0" fill="none" stroke="#1a1a1a" stroke-width="0.9" stroke-dasharray="2.6,1.8"/>
<path d="M669.6,409.9 C672.9,409.1 684.0,406.1 689.6,404.9 C695.2,403.6 700.8,402.8 703.0,402.4" fill="none" stroke="#1a1a1a" stroke-width="0.9" stroke-dasharray="2.6,1.8"/>
<path d="M612.3,432.3 C612.9,430.6 614.8,425.2 616.0,422.3 C617.2,419.4 619.2,416.1 619.8,414.8" fill="none" stroke="#1a1a1a" stroke-width="0.9" stroke-dasharray="2.6,1.8"/>
<path d="M663.1,355.9 L669.6,350.4" fill="none" stroke="#1a1a1a" stroke-width="0.9" stroke-dasharray="2.6,1.8"/>
<path d="M675.2,343.9 L684.4,341.0" fill="none" stroke="#1a1a1a" stroke-width="0.9" stroke-dasharray="2.6,1.8"/>
<path d="M648.0,360.0 L655.0,357.0" fill="none" stroke="#1a1a1a" stroke-width="0.9" stroke-dasharray="2.6,1.8"/>
<path d="M640.0,372.0 L647.0,368.0" fill="none" stroke="#1a1a1a" stroke-width="0.9" stroke-dasharray="2.6,1.8"/>
<path d="M680.0,336.0 C680.8,334.2 683.8,333.6 686.0,333.5 C688.2,333.4 691.7,334.2 693.0,335.5 C694.3,336.8 694.8,339.2 694.0,341.0 C693.2,342.8 690.2,346.0 688.0,346.5 C685.8,347.0 682.3,345.8 681.0,344.0 C679.7,342.2 679.2,337.8 680.0,336.0Z" fill="none" stroke="#1a1a1a" stroke-width="0.9" stroke-dasharray="2.6,1.8"/>
<path d="M684.0,339.0 C684.7,338.1 688.0,337.0 689.0,337.5 C690.0,338.0 690.7,341.1 690.0,342.0 C689.3,342.9 686.0,343.5 685.0,343.0 C684.0,342.5 683.3,339.9 684.0,339.0Z" fill="none" stroke="#1a1a1a" stroke-width="0.9" stroke-dasharray="2.6,1.8"/>
<circle cx="651" cy="368.9" r="0.9" fill="#1a1a1a"/>
<circle cx="667.8" cy="366.1" r="0.9" fill="#1a1a1a"/>
<circle cx="645.6" cy="389.3" r="0.9" fill="#1a1a1a"/>
<circle cx="653" cy="389.3" r="0.9" fill="#1a1a1a"/>
<circle cx="631.5" cy="268.2" r="0.9" fill="#1a1a1a"/>
<circle cx="659.5" cy="266.6" r="0.9" fill="#1a1a1a"/>
<circle cx="677.7" cy="281.4" r="0.9" fill="#1a1a1a"/>
<circle cx="686" cy="284.7" r="0.9" fill="#1a1a1a"/>
<circle cx="699" cy="286.4" r="0.9" fill="#1a1a1a"/>
<circle cx="671" cy="286.4" r="0.9" fill="#1a1a1a"/>
<circle cx="640" cy="280" r="0.9" fill="#1a1a1a"/>
<circle cx="652" cy="274" r="0.9" fill="#1a1a1a"/>
<path d="M489.0,375.0 C491.7,371.2 499.7,360.2 505.0,352.0 C510.3,343.8 516.3,333.7 521.0,326.0 C525.7,318.3 529.8,311.2 533.0,306.0 C536.2,300.8 536.2,298.0 540.0,295.0 C543.8,292.0 549.8,290.2 556.0,288.0 C562.2,285.8 570.0,284.0 577.0,282.0 C584.0,280.0 594.5,277.0 598.0,276.0" fill="none" stroke="#e0282c" stroke-width="1.8" stroke-dasharray="5,3"/>
<g>
<text x="0" y="0" font-size="11.2" fill="#111" text-anchor="middle" dominant-baseline="central" stroke="#f6d652" stroke-width="2.6" paint-order="stroke" stroke-linejoin="round" transform="translate(435.9 260.5) rotate(-35)">0.10</text>
<text x="0" y="0" font-size="11.2" fill="#111" text-anchor="middle" dominant-baseline="central" stroke="#f4e468" stroke-width="2.6" paint-order="stroke" stroke-linejoin="round" transform="translate(428.2 330) rotate(25)">0.05</text>
<text x="0" y="0" font-size="11.2" fill="#111" text-anchor="middle" dominant-baseline="central" stroke="#f6b43c" stroke-width="2.6" paint-order="stroke" stroke-linejoin="round" transform="translate(489.8 321.6) rotate(15)">0.25</text>
<text x="0" y="0" font-size="11.2" fill="#111" text-anchor="middle" dominant-baseline="central" stroke="#f2862f" stroke-width="2.6" paint-order="stroke" stroke-linejoin="round" transform="translate(508.4 296.2) rotate(0)">0.50</text>
<text x="0" y="0" font-size="11.2" fill="#111" text-anchor="middle" dominant-baseline="central" stroke="#f2e36e" stroke-width="2.6" paint-order="stroke" stroke-linejoin="round" transform="translate(612.8 296.5) rotate(0)">0.05</text>
<text x="0" y="0" font-size="11.2" fill="#111" text-anchor="middle" dominant-baseline="central" stroke="#f6d654" stroke-width="2.6" paint-order="stroke" stroke-linejoin="round" transform="translate(557.4 373.7) rotate(35)">0.10</text>
<text x="0" y="0" font-size="11.2" fill="#111" text-anchor="middle" dominant-baseline="central" stroke="#f39a35" stroke-width="2.6" paint-order="stroke" stroke-linejoin="round" transform="translate(543.6 342) rotate(60)">0.25</text>
<text x="0" y="0" font-size="11.2" fill="#111" text-anchor="middle" dominant-baseline="central" stroke="#f07432" stroke-width="2.6" paint-order="stroke" stroke-linejoin="round" transform="translate(566 318.2) rotate(-45)">0.50</text>
<text x="0" y="0" font-size="11.2" fill="#111" text-anchor="middle" dominant-baseline="central" transform="translate(580 272.3) rotate(-10)">NERZ</text>
<text x="0" y="0" font-size="12" transform="translate(489.5 366) rotate(-61)">SWRZ</text>
</g>
<g font-size="13" fill="#7d3c98" text-anchor="middle"><text x="540.5" y="291.6">B</text><text x="600.5" y="275.6">C</text><text x="483.8" y="375.8">A</text></g>
</g>
<rect x="405.5" y="191.8" width="297" height="253" fill="none" stroke="#000" stroke-width="1.5"/>
<text x="408.6" y="204.6" font-size="13.5" font-weight="bold" fill="#111">e.</text>
<line x1="689.2" y1="216.1" x2="689.2" y2="204" stroke="#000" stroke-width="2"/>
<path d="M685,205.5 L689.2,195.1 L693.4,205.5 Z" fill="#000"/>
<text x="688.6" y="230.5" font-size="16.5" text-anchor="middle" fill="#111">N</text>
<line x1="397" y1="242.1" x2="405.5" y2="242.1" stroke="#000" stroke-width="2.3"/>
<text x="0" y="0" font-size="12.7" text-anchor="end" fill="#111" transform="translate(395.4 246.0) scale(1.08 1)">19.6</text>
<line x1="397" y1="344" x2="405.5" y2="344" stroke="#000" stroke-width="2.3"/>
<text x="0" y="0" font-size="12.7" text-anchor="end" fill="#111" transform="translate(395.4 347.9) scale(1.08 1)">19.4</text>
<line x1="397" y1="445" x2="405.5" y2="445" stroke="#000" stroke-width="2.3"/>
<text x="0" y="0" font-size="12.7" text-anchor="end" fill="#111" transform="translate(395.4 448.9) scale(1.08 1)">19.2</text>
<line x1="430.2" y1="445" x2="430.2" y2="453.6" stroke="#000" stroke-width="2.5"/>
<text x="0" y="0" font-size="13" text-anchor="middle" fill="#111" transform="translate(431.2 465.3) scale(1.07 1)">-155.8</text>
<line x1="529.3" y1="445" x2="529.3" y2="453.6" stroke="#000" stroke-width="2.5"/>
<text x="0" y="0" font-size="13" text-anchor="middle" fill="#111" transform="translate(530.3 465.3) scale(1.07 1)">-155.6</text>
<line x1="628.8" y1="445" x2="628.8" y2="453.6" stroke="#000" stroke-width="2.5"/>
<text x="0" y="0" font-size="13" text-anchor="middle" fill="#111" transform="translate(629.8 465.3) scale(1.07 1)">-155.4</text>
<text x="414.7" y="441" font-size="15.6" font-style="italic" fill="#2e3192">2002-2020</text>
<rect x="619.2" y="410.8" width="83" height="31.6" fill="#e8f0dc" opacity="0.94"/>
<rect x="628.2" y="412.7" width="59.9" height="13.5" fill="url(#cbar)" stroke="#666" stroke-width="0.6"/>
<line x1="628.2" y1="426.2" x2="628.2" y2="428.7" stroke="#666" stroke-width="0.6"/>
<line x1="688.1" y1="426.2" x2="688.1" y2="428.7" stroke="#666" stroke-width="0.6"/>
<text x="619.6" y="441.2" font-size="11.7" fill="#111">&#8722;0.6</text>
<text x="660.0500000000001" y="441.2" font-size="11.7" text-anchor="middle" fill="#111">MPa</text>
<text x="683.4000000000001" y="441.2" font-size="11.7" fill="#111">0.6</text>
</svg>
</body></html>
